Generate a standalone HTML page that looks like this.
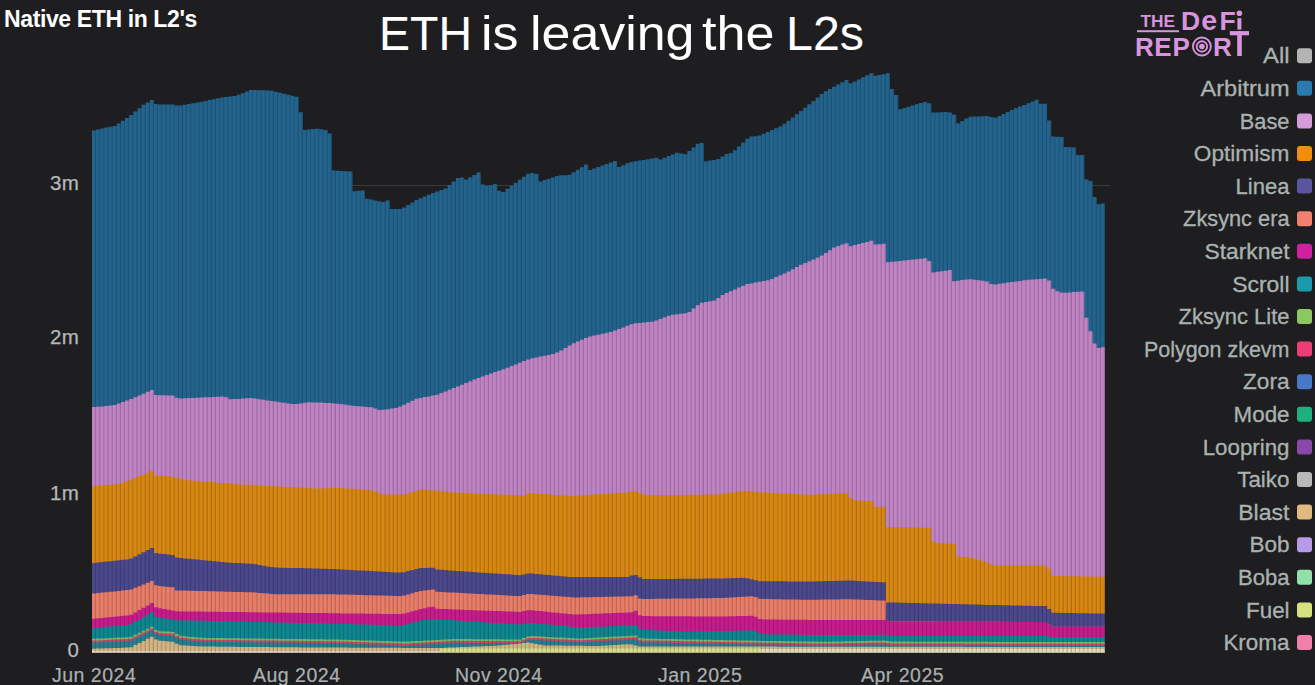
<!DOCTYPE html>
<html><head><meta charset="utf-8">
<style>
html,body{margin:0;padding:0;}
body{width:1315px;height:685px;background:#1e1e20;position:relative;overflow:hidden;font-family:"Liberation Sans",sans-serif;}
.abs{position:absolute;white-space:nowrap;}
#t1{left:4px;top:6px;font-size:23px;font-weight:bold;color:#fff;letter-spacing:-0.38px;}
#t2{left:379.6px;top:5.3px;font-size:48px;color:#fff;letter-spacing:0.2px;}
.yl{position:absolute;right:1236px;font-size:20.5px;color:#b4b8b8;line-height:20px;letter-spacing:0.2px;-webkit-text-stroke:0.25px #b4b8b8;}
.xl{position:absolute;top:665px;font-size:19.5px;color:#aab0b0;line-height:20px;letter-spacing:0.5px;-webkit-text-stroke:0.2px #aab0b0;}
.li{position:absolute;right:3px;height:24px;display:flex;align-items:center;}
.lt{font-size:21.5px;color:#b0b8b6;margin-right:9px;line-height:24px;letter-spacing:0.3px;-webkit-text-stroke:0.25px #b0b8b6;}
.sw{display:inline-block;width:15px;height:15px;border-radius:3px;}
svg{position:absolute;left:0;top:0;}
</style></head><body>
<svg width="1315" height="685" viewBox="0 0 1315 685">
<defs><pattern id="stripes" x="92" y="0" width="4.1347" height="10" patternUnits="userSpaceOnUse"><rect x="3.035" y="0" width="1.1" height="10" fill="#000" fill-opacity="0.2"/></pattern></defs>
<line x1="92" y1="185.5" x2="1110" y2="185.5" stroke="#3a3838" stroke-width="1"/>
<polygon points="92.0,652.5 92.0,130.5 96.1,130.5 96.1,129.5 100.3,129.5 100.3,128.5 104.4,128.5 104.4,127.5 108.5,127.5 108.5,126.7 112.7,126.7 112.7,125.9 116.8,125.9 116.8,123.6 120.9,123.6 120.9,120.8 125.1,120.8 125.1,118.1 129.2,118.1 129.2,115.0 133.3,115.0 133.3,111.6 137.5,111.6 137.5,108.2 141.6,108.2 141.6,104.8 145.8,104.8 145.8,102.5 149.9,102.5 149.9,100.1 154.0,100.1 154.0,104.0 158.2,104.0 158.2,104.4 162.3,104.4 162.3,104.4 166.4,104.4 166.4,104.4 170.6,104.4 170.6,104.4 174.7,104.4 174.7,105.5 178.8,105.5 178.8,105.6 183.0,105.6 183.0,104.8 187.1,104.8 187.1,104.1 191.2,104.1 191.2,103.3 195.4,103.3 195.4,102.6 199.5,102.6 199.5,101.8 203.6,101.8 203.6,101.0 207.8,101.0 207.8,100.1 211.9,100.1 211.9,99.2 216.0,99.2 216.0,98.3 220.2,98.3 220.2,97.6 224.3,97.6 224.3,97.0 228.4,97.0 228.4,96.5 232.6,96.5 232.6,95.9 236.7,95.9 236.7,94.8 240.8,94.8 240.8,93.2 245.0,93.2 245.0,91.5 249.1,91.5 249.1,89.9 253.3,89.9 253.3,90.0 257.4,90.0 257.4,90.2 261.5,90.2 261.5,90.3 265.7,90.3 265.7,90.5 269.8,90.5 269.8,90.7 273.9,90.7 273.9,91.7 278.1,91.7 278.1,92.7 282.2,92.7 282.2,93.7 286.3,93.7 286.3,94.7 290.5,94.7 290.5,95.7 294.6,95.7 294.6,96.7 298.7,96.7 298.7,112.3 302.9,112.3 302.9,129.9 307.0,129.9 307.0,129.5 311.1,129.5 311.1,129.1 315.3,129.1 315.3,128.7 319.4,128.7 319.4,129.2 323.5,129.2 323.5,130.0 327.7,130.0 327.7,133.4 331.8,133.4 331.8,170.4 335.9,170.4 335.9,170.7 340.1,170.7 340.1,171.0 344.2,171.0 344.2,171.3 348.4,171.3 348.4,171.6 352.5,171.6 352.5,191.2 356.6,191.2 356.6,190.8 360.8,190.8 360.8,190.4 364.9,190.4 364.9,198.7 369.0,198.7 369.0,199.6 373.2,199.6 373.2,200.4 377.3,200.4 377.3,201.2 381.4,201.2 381.4,202.1 385.6,202.1 385.6,200.5 389.7,200.5 389.7,209.0 393.8,209.0 393.8,209.0 398.0,209.0 398.0,209.0 402.1,209.0 402.1,207.5 406.2,207.5 406.2,205.0 410.4,205.0 410.4,202.4 414.5,202.4 414.5,199.9 418.6,199.9 418.6,198.2 422.8,198.2 422.8,196.5 426.9,196.5 426.9,194.8 431.0,194.8 431.0,193.1 435.2,193.1 435.2,191.6 439.3,191.6 439.3,190.0 443.4,190.0 443.4,188.5 447.6,188.5 447.6,185.0 451.7,185.0 451.7,181.5 455.9,181.5 455.9,178.0 460.0,178.0 460.0,177.4 464.1,177.4 464.1,179.6 468.3,179.6 468.3,177.3 472.4,177.3 472.4,174.9 476.5,174.9 476.5,172.6 480.7,172.6 480.7,184.5 484.8,184.5 484.8,186.1 488.9,186.1 488.9,185.1 493.1,185.1 493.1,184.0 497.2,184.0 497.2,190.8 501.3,190.8 501.3,191.9 505.5,191.9 505.5,188.8 509.6,188.8 509.6,185.8 513.7,185.8 513.7,182.8 517.9,182.8 517.9,179.8 522.0,179.8 522.0,176.8 526.1,176.8 526.1,173.8 530.3,173.8 530.3,172.9 534.4,172.9 534.4,173.9 538.5,173.9 538.5,181.5 542.7,181.5 542.7,180.1 546.8,180.1 546.8,178.7 551.0,178.7 551.0,177.4 555.1,177.4 555.1,176.0 559.2,176.0 559.2,175.3 563.4,175.3 563.4,175.3 567.5,175.3 567.5,174.8 571.6,174.8 571.6,172.3 575.8,172.3 575.8,169.7 579.9,169.7 579.9,167.2 584.0,167.2 584.0,164.6 588.2,164.6 588.2,170.1 592.3,170.1 592.3,168.5 596.4,168.5 596.4,167.0 600.6,167.0 600.6,165.5 604.7,165.5 604.7,163.9 608.8,163.9 608.8,162.4 613.0,162.4 613.0,160.9 617.1,160.9 617.1,167.0 621.2,167.0 621.2,165.2 625.4,165.2 625.4,163.3 629.5,163.3 629.5,161.9 633.6,161.9 633.6,161.2 637.8,161.2 637.8,160.6 641.9,160.6 641.9,159.9 646.0,159.9 646.0,159.2 650.2,159.2 650.2,158.5 654.3,158.5 654.3,157.8 658.5,157.8 658.5,159.5 662.6,159.5 662.6,157.8 666.7,157.8 666.7,156.1 670.9,156.1 670.9,154.4 675.0,154.4 675.0,152.8 679.1,152.8 679.1,153.6 683.3,153.6 683.3,154.3 687.4,154.3 687.4,150.9 691.5,150.9 691.5,147.4 695.7,147.4 695.7,143.8 699.8,143.8 699.8,143.0 703.9,143.0 703.9,161.3 708.1,161.3 708.1,160.6 712.2,160.6 712.2,159.9 716.3,159.9 716.3,158.9 720.5,158.9 720.5,156.4 724.6,156.4 724.6,153.9 728.7,153.9 728.7,153.1 732.9,153.1 732.9,150.3 737.0,150.3 737.0,146.5 741.1,146.5 741.1,142.6 745.3,142.6 745.3,138.8 749.4,138.8 749.4,136.4 753.6,136.4 753.6,136.2 757.7,136.2 757.7,135.5 761.8,135.5 761.8,133.8 766.0,133.8 766.0,132.0 770.1,132.0 770.1,130.1 774.2,130.1 774.2,128.3 778.4,128.3 778.4,126.4 782.5,126.4 782.5,123.8 786.6,123.8 786.6,120.7 790.8,120.7 790.8,117.6 794.9,117.6 794.9,114.3 799.0,114.3 799.0,111.0 803.2,111.0 803.2,107.7 807.3,107.7 807.3,104.3 811.4,104.3 811.4,100.9 815.6,100.9 815.6,97.5 819.7,97.5 819.7,94.0 823.8,94.0 823.8,91.3 828.0,91.3 828.0,89.0 832.1,89.0 832.1,86.7 836.2,86.7 836.2,84.4 840.4,84.4 840.4,82.2 844.5,82.2 844.5,79.9 848.6,79.9 848.6,83.2 852.8,83.2 852.8,81.5 856.9,81.5 856.9,79.4 861.1,79.4 861.1,77.3 865.2,77.3 865.2,75.2 869.3,75.2 869.3,73.2 873.5,73.2 873.5,75.8 877.6,75.8 877.6,75.1 881.7,75.1 881.7,74.2 885.9,74.2 885.9,73.2 890.0,73.2 890.0,88.9 894.1,88.9 894.1,94.9 898.3,94.9 898.3,109.3 902.4,109.3 902.4,108.0 906.5,108.0 906.5,106.8 910.7,106.8 910.7,105.6 914.8,105.6 914.8,104.3 918.9,104.3 918.9,103.1 923.1,103.1 923.1,101.9 927.2,101.9 927.2,103.2 931.3,103.2 931.3,112.5 935.5,112.5 935.5,112.4 939.6,112.4 939.6,112.2 943.7,112.2 943.7,112.1 947.9,112.1 947.9,112.6 952.0,112.6 952.0,114.8 956.2,114.8 956.2,123.2 960.3,123.2 960.3,120.9 964.4,120.9 964.4,118.5 968.6,118.5 968.6,116.8 972.7,116.8 972.7,116.6 976.8,116.6 976.8,116.4 981.0,116.4 981.0,116.2 985.1,116.2 985.1,116.1 989.2,116.1 989.2,116.9 993.4,116.9 993.4,117.8 997.5,117.8 997.5,115.9 1001.6,115.9 1001.6,114.0 1005.8,114.0 1005.8,112.0 1009.9,112.0 1009.9,110.1 1014.0,110.1 1014.0,108.3 1018.2,108.3 1018.2,106.6 1022.3,106.6 1022.3,104.9 1026.4,104.9 1026.4,103.2 1030.6,103.2 1030.6,101.5 1034.7,101.5 1034.7,99.8 1038.8,99.8 1038.8,103.8 1043.0,103.8 1043.0,103.8 1047.1,103.8 1047.1,120.6 1051.2,120.6 1051.2,136.6 1055.4,136.6 1055.4,136.8 1059.5,136.8 1059.5,137.1 1063.7,137.1 1063.7,147.0 1067.8,147.0 1067.8,147.3 1071.9,147.3 1071.9,147.5 1076.1,147.5 1076.1,154.9 1080.2,154.9 1080.2,154.9 1084.3,154.9 1084.3,179.5 1088.5,179.5 1088.5,180.9 1092.6,180.9 1092.6,197.0 1096.7,197.0 1096.7,204.3 1100.9,204.3 1100.9,203.4 1105.0,203.4 1105.0,652.5" fill="#23648e"/>
<polygon points="92.0,652.5 92.0,407.1 96.1,407.1 96.1,406.7 100.3,406.7 100.3,406.4 104.4,406.4 104.4,406.0 108.5,406.0 108.5,405.6 112.7,405.6 112.7,405.1 116.8,405.1 116.8,403.5 120.9,403.5 120.9,402.0 125.1,402.0 125.1,400.4 129.2,400.4 129.2,398.9 133.3,398.9 133.3,397.3 137.5,397.3 137.5,395.6 141.6,395.6 141.6,393.7 145.8,393.7 145.8,391.8 149.9,391.8 149.9,390.0 154.0,390.0 154.0,395.1 158.2,395.1 158.2,395.2 162.3,395.2 162.3,395.3 166.4,395.3 166.4,395.5 170.6,395.5 170.6,395.6 174.7,395.6 174.7,397.7 178.8,397.7 178.8,398.4 183.0,398.4 183.0,398.2 187.1,398.2 187.1,398.0 191.2,398.0 191.2,397.9 195.4,397.9 195.4,397.7 199.5,397.7 199.5,397.5 203.6,397.5 203.6,397.3 207.8,397.3 207.8,397.2 211.9,397.2 211.9,397.0 216.0,397.0 216.0,396.8 220.2,396.8 220.2,396.6 224.3,396.6 224.3,397.2 228.4,397.2 228.4,399.2 232.6,399.2 232.6,399.1 236.7,399.1 236.7,398.9 240.8,398.9 240.8,398.6 245.0,398.6 245.0,398.3 249.1,398.3 249.1,398.0 253.3,398.0 253.3,398.6 257.4,398.6 257.4,399.2 261.5,399.2 261.5,399.8 265.7,399.8 265.7,400.4 269.8,400.4 269.8,401.0 273.9,401.0 273.9,401.6 278.1,401.6 278.1,402.2 282.2,402.2 282.2,402.8 286.3,402.8 286.3,403.4 290.5,403.4 290.5,404.0 294.6,404.0 294.6,404.1 298.7,404.1 298.7,403.4 302.9,403.4 302.9,402.7 307.0,402.7 307.0,402.3 311.1,402.3 311.1,402.4 315.3,402.4 315.3,402.5 319.4,402.5 319.4,402.6 323.5,402.6 323.5,402.9 327.7,402.9 327.7,403.1 331.8,403.1 331.8,403.4 335.9,403.4 335.9,403.7 340.1,403.7 340.1,404.2 344.2,404.2 344.2,404.8 348.4,404.8 348.4,405.4 352.5,405.4 352.5,405.9 356.6,405.9 356.6,406.3 360.8,406.3 360.8,406.6 364.9,406.6 364.9,407.0 369.0,407.0 369.0,407.3 373.2,407.3 373.2,408.5 377.3,408.5 377.3,410.1 381.4,410.1 381.4,409.8 385.6,409.8 385.6,409.2 389.7,409.2 389.7,408.5 393.8,408.5 393.8,407.9 398.0,407.9 398.0,406.8 402.1,406.8 402.1,404.7 406.2,404.7 406.2,402.7 410.4,402.7 410.4,400.7 414.5,400.7 414.5,398.7 418.6,398.7 418.6,397.9 422.8,397.9 422.8,397.1 426.9,397.1 426.9,396.4 431.0,396.4 431.0,395.6 435.2,395.6 435.2,394.7 439.3,394.7 439.3,393.1 443.4,393.1 443.4,391.4 447.6,391.4 447.6,389.8 451.7,389.8 451.7,388.1 455.9,388.1 455.9,386.4 460.0,386.4 460.0,384.7 464.1,384.7 464.1,383.0 468.3,383.0 468.3,381.3 472.4,381.3 472.4,379.5 476.5,379.5 476.5,377.9 480.7,377.9 480.7,376.4 484.8,376.4 484.8,375.0 488.9,375.0 488.9,373.6 493.1,373.6 493.1,372.1 497.2,372.1 497.2,370.7 501.3,370.7 501.3,369.2 505.5,369.2 505.5,367.7 509.6,367.7 509.6,366.1 513.7,366.1 513.7,364.4 517.9,364.4 517.9,362.8 522.0,362.8 522.0,361.1 526.1,361.1 526.1,359.5 530.3,359.5 530.3,358.3 534.4,358.3 534.4,357.4 538.5,357.4 538.5,356.6 542.7,356.6 542.7,355.8 546.8,355.8 546.8,354.9 551.0,354.9 551.0,354.1 555.1,354.1 555.1,352.6 559.2,352.6 559.2,350.6 563.4,350.6 563.4,348.0 567.5,348.0 567.5,345.4 571.6,345.4 571.6,343.2 575.8,343.2 575.8,341.5 579.9,341.5 579.9,339.8 584.0,339.8 584.0,338.1 588.2,338.1 588.2,336.6 592.3,336.6 592.3,335.6 596.4,335.6 596.4,334.7 600.6,334.7 600.6,333.8 604.7,333.8 604.7,332.8 608.8,332.8 608.8,331.9 613.0,331.9 613.0,330.6 617.1,330.6 617.1,329.0 621.2,329.0 621.2,327.4 625.4,327.4 625.4,325.8 629.5,325.8 629.5,324.2 633.6,324.2 633.6,323.3 637.8,323.3 637.8,322.9 641.9,322.9 641.9,322.5 646.0,322.5 646.0,322.1 650.2,322.1 650.2,321.7 654.3,321.7 654.3,320.5 658.5,320.5 658.5,318.9 662.6,318.9 662.6,317.3 666.7,317.3 666.7,315.7 670.9,315.7 670.9,314.7 675.0,314.7 675.0,314.2 679.1,314.2 679.1,313.7 683.3,313.7 683.3,313.2 687.4,313.2 687.4,312.0 691.5,312.0 691.5,308.6 695.7,308.6 695.7,305.2 699.8,305.2 699.8,302.8 703.9,302.8 703.9,302.0 708.1,302.0 708.1,301.2 712.2,301.2 712.2,300.4 716.3,300.4 716.3,297.9 720.5,297.9 720.5,295.1 724.6,295.1 724.6,293.1 728.7,293.1 728.7,291.3 732.9,291.3 732.9,289.5 737.0,289.5 737.0,287.6 741.1,287.6 741.1,285.8 745.3,285.8 745.3,284.1 749.4,284.1 749.4,283.4 753.6,283.4 753.6,282.6 757.7,282.6 757.7,281.8 761.8,281.8 761.8,281.1 766.0,281.1 766.0,280.3 770.1,280.3 770.1,279.0 774.2,279.0 774.2,277.1 778.4,277.1 778.4,275.3 782.5,275.3 782.5,273.4 786.6,273.4 786.6,271.4 790.8,271.4 790.8,269.2 794.9,269.2 794.9,266.9 799.0,266.9 799.0,264.7 803.2,264.7 803.2,263.0 807.3,263.0 807.3,261.2 811.4,261.2 811.4,259.4 815.6,259.4 815.6,257.7 819.7,257.7 819.7,255.6 823.8,255.6 823.8,252.9 828.0,252.9 828.0,250.2 832.1,250.2 832.1,247.4 836.2,247.4 836.2,245.9 840.4,245.9 840.4,244.6 844.5,244.6 844.5,243.3 848.6,243.3 848.6,246.2 852.8,246.2 852.8,245.1 856.9,245.1 856.9,244.1 861.1,244.1 861.1,243.0 865.2,243.0 865.2,241.9 869.3,241.9 869.3,240.8 873.5,240.8 873.5,244.6 877.6,244.6 877.6,244.2 881.7,244.2 881.7,243.8 885.9,243.8 885.9,262.3 890.0,262.3 890.0,261.8 894.1,261.8 894.1,261.4 898.3,261.4 898.3,261.0 902.4,261.0 902.4,260.5 906.5,260.5 906.5,260.1 910.7,260.1 910.7,259.6 914.8,259.6 914.8,259.2 918.9,259.2 918.9,258.8 923.1,258.8 923.1,258.3 927.2,258.3 927.2,260.9 931.3,260.9 931.3,272.4 935.5,272.4 935.5,271.8 939.6,271.8 939.6,271.3 943.7,271.3 943.7,270.7 947.9,270.7 947.9,270.1 952.0,270.1 952.0,281.3 956.2,281.3 956.2,280.7 960.3,280.7 960.3,280.0 964.4,280.0 964.4,279.4 968.6,279.4 968.6,279.2 972.7,279.2 972.7,279.7 976.8,279.7 976.8,280.3 981.0,280.3 981.0,280.8 985.1,280.8 985.1,281.5 989.2,281.5 989.2,284.0 993.4,284.0 993.4,284.4 997.5,284.4 997.5,283.8 1001.6,283.8 1001.6,283.2 1005.8,283.2 1005.8,282.6 1009.9,282.6 1009.9,282.0 1014.0,282.0 1014.0,281.5 1018.2,281.5 1018.2,280.9 1022.3,280.9 1022.3,280.3 1026.4,280.3 1026.4,279.7 1030.6,279.7 1030.6,279.5 1034.7,279.5 1034.7,279.2 1038.8,279.2 1038.8,278.9 1043.0,278.9 1043.0,278.6 1047.1,278.6 1047.1,280.5 1051.2,280.5 1051.2,288.7 1055.4,288.7 1055.4,291.2 1059.5,291.2 1059.5,292.6 1063.7,292.6 1063.7,292.8 1067.8,292.8 1067.8,292.5 1071.9,292.5 1071.9,292.1 1076.1,292.1 1076.1,291.8 1080.2,291.8 1080.2,291.5 1084.3,291.5 1084.3,317.8 1088.5,317.8 1088.5,331.2 1092.6,331.2 1092.6,343.5 1096.7,343.5 1096.7,348.0 1100.9,348.0 1100.9,347.3 1105.0,347.3 1105.0,652.5" fill="#c084c4"/>
<polygon points="92.0,652.5 92.0,485.9 96.1,485.9 96.1,485.6 100.3,485.6 100.3,485.3 104.4,485.3 104.4,485.0 108.5,485.0 108.5,484.7 112.7,484.7 112.7,484.4 116.8,484.4 116.8,484.1 120.9,484.1 120.9,482.8 125.1,482.8 125.1,481.1 129.2,481.1 129.2,479.4 133.3,479.4 133.3,477.8 137.5,477.8 137.5,476.1 141.6,476.1 141.6,474.4 145.8,474.4 145.8,472.7 149.9,472.7 149.9,471.1 154.0,471.1 154.0,475.4 158.2,475.4 158.2,475.7 162.3,475.7 162.3,475.9 166.4,475.9 166.4,476.1 170.6,476.1 170.6,476.9 174.7,476.9 174.7,477.9 178.8,477.9 178.8,478.8 183.0,478.8 183.0,479.8 187.1,479.8 187.1,480.5 191.2,480.5 191.2,480.8 195.4,480.8 195.4,481.1 199.5,481.1 199.5,481.4 203.6,481.4 203.6,481.7 207.8,481.7 207.8,482.0 211.9,482.0 211.9,482.4 216.0,482.4 216.0,482.7 220.2,482.7 220.2,483.0 224.3,483.0 224.3,483.3 228.4,483.3 228.4,483.6 232.6,483.6 232.6,483.9 236.7,483.9 236.7,484.3 240.8,484.3 240.8,484.6 245.0,484.6 245.0,484.9 249.1,484.9 249.1,485.1 253.3,485.1 253.3,485.3 257.4,485.3 257.4,485.5 261.5,485.5 261.5,485.7 265.7,485.7 265.7,485.9 269.8,485.9 269.8,486.1 273.9,486.1 273.9,486.3 278.1,486.3 278.1,486.5 282.2,486.5 282.2,486.7 286.3,486.7 286.3,487.0 290.5,487.0 290.5,487.2 294.6,487.2 294.6,487.4 298.7,487.4 298.7,487.6 302.9,487.6 302.9,487.8 307.0,487.8 307.0,488.0 311.1,488.0 311.1,488.2 315.3,488.2 315.3,488.5 319.4,488.5 319.4,488.5 323.5,488.5 323.5,488.3 327.7,488.3 327.7,488.0 331.8,488.0 331.8,487.7 335.9,487.7 335.9,487.9 340.1,487.9 340.1,488.2 344.2,488.2 344.2,488.4 348.4,488.4 348.4,488.7 352.5,488.7 352.5,488.9 356.6,488.9 356.6,489.2 360.8,489.2 360.8,489.4 364.9,489.4 364.9,489.7 369.0,489.7 369.0,489.9 373.2,489.9 373.2,491.4 377.3,491.4 377.3,493.5 381.4,493.5 381.4,494.5 385.6,494.5 385.6,494.5 389.7,494.5 389.7,494.5 393.8,494.5 393.8,494.5 398.0,494.5 398.0,494.5 402.1,494.5 402.1,494.5 406.2,494.5 406.2,493.4 410.4,493.4 410.4,492.2 414.5,492.2 414.5,490.9 418.6,490.9 418.6,489.7 422.8,489.7 422.8,489.5 426.9,489.5 426.9,489.9 431.0,489.9 431.0,490.4 435.2,490.4 435.2,490.8 439.3,490.8 439.3,491.3 443.4,491.3 443.4,491.8 447.6,491.8 447.6,492.2 451.7,492.2 451.7,492.5 455.9,492.5 455.9,492.7 460.0,492.7 460.0,492.9 464.1,492.9 464.1,493.1 468.3,493.1 468.3,493.3 472.4,493.3 472.4,493.5 476.5,493.5 476.5,493.7 480.7,493.7 480.7,493.9 484.8,493.9 484.8,494.1 488.9,494.1 488.9,494.3 493.1,494.3 493.1,494.5 497.2,494.5 497.2,494.6 501.3,494.6 501.3,494.7 505.5,494.7 505.5,494.8 509.6,494.8 509.6,495.0 513.7,495.0 513.7,495.1 517.9,495.1 517.9,495.2 522.0,495.2 522.0,495.3 526.1,495.3 526.1,493.3 530.3,493.3 530.3,493.2 534.4,493.2 534.4,493.5 538.5,493.5 538.5,493.8 542.7,493.8 542.7,494.1 546.8,494.1 546.8,494.4 551.0,494.4 551.0,494.7 555.1,494.7 555.1,495.0 559.2,495.0 559.2,495.3 563.4,495.3 563.4,495.6 567.5,495.6 567.5,495.9 571.6,495.9 571.6,495.7 575.8,495.7 575.8,495.4 579.9,495.4 579.9,495.2 584.0,495.2 584.0,494.9 588.2,494.9 588.2,494.7 592.3,494.7 592.3,494.4 596.4,494.4 596.4,494.2 600.6,494.2 600.6,493.9 604.7,493.9 604.7,493.7 608.8,493.7 608.8,493.4 613.0,493.4 613.0,493.2 617.1,493.2 617.1,493.0 621.2,493.0 621.2,492.7 625.4,492.7 625.4,492.5 629.5,492.5 629.5,491.5 633.6,491.5 633.6,491.3 637.8,491.3 637.8,492.9 641.9,492.9 641.9,494.5 646.0,494.5 646.0,495.3 650.2,495.3 650.2,495.2 654.3,495.2 654.3,495.2 658.5,495.2 658.5,495.1 662.6,495.1 662.6,495.1 666.7,495.1 666.7,495.0 670.9,495.0 670.9,495.0 675.0,495.0 675.0,494.9 679.1,494.9 679.1,494.9 683.3,494.9 683.3,494.9 687.4,494.9 687.4,494.8 691.5,494.8 691.5,494.8 695.7,494.8 695.7,494.7 699.8,494.7 699.8,494.7 703.9,494.7 703.9,494.6 708.1,494.6 708.1,494.6 712.2,494.6 712.2,494.5 716.3,494.5 716.3,494.2 720.5,494.2 720.5,493.7 724.6,493.7 724.6,493.2 728.7,493.2 728.7,492.7 732.9,492.7 732.9,492.2 737.0,492.2 737.0,491.7 741.1,491.7 741.1,491.2 745.3,491.2 745.3,491.2 749.4,491.2 749.4,491.6 753.6,491.6 753.6,492.0 757.7,492.0 757.7,492.4 761.8,492.4 761.8,492.6 766.0,492.6 766.0,492.8 770.1,492.8 770.1,493.0 774.2,493.0 774.2,493.2 778.4,493.2 778.4,493.4 782.5,493.4 782.5,493.6 786.6,493.6 786.6,493.8 790.8,493.8 790.8,494.0 794.9,494.0 794.9,494.2 799.0,494.2 799.0,494.4 803.2,494.4 803.2,494.6 807.3,494.6 807.3,494.8 811.4,494.8 811.4,494.7 815.6,494.7 815.6,494.5 819.7,494.5 819.7,494.3 823.8,494.3 823.8,494.1 828.0,494.1 828.0,494.0 832.1,494.0 832.1,493.8 836.2,493.8 836.2,493.6 840.4,493.6 840.4,493.5 844.5,493.5 844.5,493.3 848.6,493.3 848.6,497.9 852.8,497.9 852.8,500.3 856.9,500.3 856.9,500.5 861.1,500.5 861.1,500.7 865.2,500.7 865.2,500.9 869.3,500.9 869.3,501.1 873.5,501.1 873.5,506.7 877.6,506.7 877.6,507.0 881.7,507.0 881.7,507.3 885.9,507.3 885.9,526.9 890.0,526.9 890.0,527.0 894.1,527.0 894.1,527.1 898.3,527.1 898.3,527.2 902.4,527.2 902.4,527.3 906.5,527.3 906.5,527.3 910.7,527.3 910.7,527.4 914.8,527.4 914.8,527.5 918.9,527.5 918.9,527.6 923.1,527.6 923.1,527.7 927.2,527.7 927.2,527.8 931.3,527.8 931.3,541.6 935.5,541.6 935.5,543.2 939.6,543.2 939.6,543.3 943.7,543.3 943.7,543.5 947.9,543.5 947.9,543.7 952.0,543.7 952.0,543.8 956.2,543.8 956.2,556.6 960.3,556.6 960.3,556.9 964.4,556.9 964.4,557.1 968.6,557.1 968.6,557.4 972.7,557.4 972.7,558.6 976.8,558.6 976.8,559.9 981.0,559.9 981.0,561.1 985.1,561.1 985.1,562.4 989.2,562.4 989.2,564.5 993.4,564.5 993.4,565.4 997.5,565.4 997.5,565.4 1001.6,565.4 1001.6,565.4 1005.8,565.4 1005.8,565.4 1009.9,565.4 1009.9,565.4 1014.0,565.4 1014.0,565.4 1018.2,565.4 1018.2,565.4 1022.3,565.4 1022.3,565.4 1026.4,565.4 1026.4,565.4 1030.6,565.4 1030.6,565.4 1034.7,565.4 1034.7,565.4 1038.8,565.4 1038.8,565.4 1043.0,565.4 1043.0,565.4 1047.1,565.4 1047.1,568.7 1051.2,568.7 1051.2,576.0 1055.4,576.0 1055.4,576.1 1059.5,576.1 1059.5,576.1 1063.7,576.1 1063.7,576.2 1067.8,576.2 1067.8,576.2 1071.9,576.2 1071.9,576.3 1076.1,576.3 1076.1,576.3 1080.2,576.3 1080.2,576.4 1084.3,576.4 1084.3,576.5 1088.5,576.5 1088.5,576.5 1092.6,576.5 1092.6,576.6 1096.7,576.6 1096.7,576.6 1100.9,576.6 1100.9,576.7 1105.0,576.7 1105.0,652.5" fill="#d88812"/>
<polygon points="92.0,652.5 92.0,563.0 96.1,563.0 96.1,562.5 100.3,562.5 100.3,562.1 104.4,562.1 104.4,561.6 108.5,561.6 108.5,561.2 112.7,561.2 112.7,560.7 116.8,560.7 116.8,560.3 120.9,560.3 120.9,559.8 125.1,559.8 125.1,559.4 129.2,559.4 129.2,558.6 133.3,558.6 133.3,556.5 137.5,556.5 137.5,554.3 141.6,554.3 141.6,552.2 145.8,552.2 145.8,550.0 149.9,550.0 149.9,547.9 154.0,547.9 154.0,553.0 158.2,553.0 158.2,553.7 162.3,553.7 162.3,554.1 166.4,554.1 166.4,554.6 170.6,554.6 170.6,555.0 174.7,555.0 174.7,557.5 178.8,557.5 178.8,558.0 183.0,558.0 183.0,558.4 187.1,558.4 187.1,558.8 191.2,558.8 191.2,559.2 195.4,559.2 195.4,559.6 199.5,559.6 199.5,560.0 203.6,560.0 203.6,560.4 207.8,560.4 207.8,560.8 211.9,560.8 211.9,561.2 216.0,561.2 216.0,561.6 220.2,561.6 220.2,562.1 224.3,562.1 224.3,562.4 228.4,562.4 228.4,562.7 232.6,562.7 232.6,562.9 236.7,562.9 236.7,563.1 240.8,563.1 240.8,563.3 245.0,563.3 245.0,563.5 249.1,563.5 249.1,563.7 253.3,563.7 253.3,564.3 257.4,564.3 257.4,565.0 261.5,565.0 261.5,565.7 265.7,565.7 265.7,566.4 269.8,566.4 269.8,567.1 273.9,567.1 273.9,567.6 278.1,567.6 278.1,567.7 282.2,567.7 282.2,567.8 286.3,567.8 286.3,567.9 290.5,567.9 290.5,567.9 294.6,567.9 294.6,568.0 298.7,568.0 298.7,568.1 302.9,568.1 302.9,568.2 307.0,568.2 307.0,568.3 311.1,568.3 311.1,568.4 315.3,568.4 315.3,568.5 319.4,568.5 319.4,568.7 323.5,568.7 323.5,568.8 327.7,568.8 327.7,568.9 331.8,568.9 331.8,569.1 335.9,569.1 335.9,569.3 340.1,569.3 340.1,569.5 344.2,569.5 344.2,569.8 348.4,569.8 348.4,570.0 352.5,570.0 352.5,570.2 356.6,570.2 356.6,570.4 360.8,570.4 360.8,570.6 364.9,570.6 364.9,570.8 369.0,570.8 369.0,571.1 373.2,571.1 373.2,571.3 377.3,571.3 377.3,571.5 381.4,571.5 381.4,571.7 385.6,571.7 385.6,571.9 389.7,571.9 389.7,572.2 393.8,572.2 393.8,572.4 398.0,572.4 398.0,572.6 402.1,572.6 402.1,572.2 406.2,572.2 406.2,571.1 410.4,571.1 410.4,570.0 414.5,570.0 414.5,568.9 418.6,568.9 418.6,568.1 422.8,568.1 422.8,567.9 426.9,567.9 426.9,567.7 431.0,567.7 431.0,567.8 435.2,567.8 435.2,569.6 439.3,569.6 439.3,569.8 443.4,569.8 443.4,570.1 447.6,570.1 447.6,570.4 451.7,570.4 451.7,570.7 455.9,570.7 455.9,571.0 460.0,571.0 460.0,571.2 464.1,571.2 464.1,571.5 468.3,571.5 468.3,571.8 472.4,571.8 472.4,572.1 476.5,572.1 476.5,572.4 480.7,572.4 480.7,572.7 484.8,572.7 484.8,572.9 488.9,572.9 488.9,573.2 493.1,573.2 493.1,573.5 497.2,573.5 497.2,573.8 501.3,573.8 501.3,574.1 505.5,574.1 505.5,574.3 509.6,574.3 509.6,574.6 513.7,574.6 513.7,574.9 517.9,574.9 517.9,575.2 522.0,575.2 522.0,574.4 526.1,574.4 526.1,573.6 530.3,573.6 530.3,573.6 534.4,573.6 534.4,573.9 538.5,573.9 538.5,574.3 542.7,574.3 542.7,574.7 546.8,574.7 546.8,575.1 551.0,575.1 551.0,575.4 555.1,575.4 555.1,575.8 559.2,575.8 559.2,576.2 563.4,576.2 563.4,576.6 567.5,576.6 567.5,577.0 571.6,577.0 571.6,577.0 575.8,577.0 575.8,577.0 579.9,577.0 579.9,577.0 584.0,577.0 584.0,577.0 588.2,577.0 588.2,577.0 592.3,577.0 592.3,577.0 596.4,577.0 596.4,577.0 600.6,577.0 600.6,577.0 604.7,577.0 604.7,577.0 608.8,577.0 608.8,577.0 613.0,577.0 613.0,577.0 617.1,577.0 617.1,577.0 621.2,577.0 621.2,577.0 625.4,577.0 625.4,577.0 629.5,577.0 629.5,575.5 633.6,575.5 633.6,575.0 637.8,575.0 637.8,577.3 641.9,577.3 641.9,579.1 646.0,579.1 646.0,579.1 650.2,579.1 650.2,579.0 654.3,579.0 654.3,579.0 658.5,579.0 658.5,579.0 662.6,579.0 662.6,578.9 666.7,578.9 666.7,578.9 670.9,578.9 670.9,578.9 675.0,578.9 675.0,578.8 679.1,578.8 679.1,578.8 683.3,578.8 683.3,578.8 687.4,578.8 687.4,578.7 691.5,578.7 691.5,578.7 695.7,578.7 695.7,578.7 699.8,578.7 699.8,578.7 703.9,578.7 703.9,578.6 708.1,578.6 708.1,578.6 712.2,578.6 712.2,578.6 716.3,578.6 716.3,578.5 720.5,578.5 720.5,578.5 724.6,578.5 724.6,578.3 728.7,578.3 728.7,578.2 732.9,578.2 732.9,578.1 737.0,578.1 737.0,577.9 741.1,577.9 741.1,577.8 745.3,577.8 745.3,578.2 749.4,578.2 749.4,579.2 753.6,579.2 753.6,580.2 757.7,580.2 757.7,581.2 761.8,581.2 761.8,581.2 766.0,581.2 766.0,581.2 770.1,581.2 770.1,581.3 774.2,581.3 774.2,581.3 778.4,581.3 778.4,581.3 782.5,581.3 782.5,581.3 786.6,581.3 786.6,581.4 790.8,581.4 790.8,581.4 794.9,581.4 794.9,581.4 799.0,581.4 799.0,581.4 803.2,581.4 803.2,581.5 807.3,581.5 807.3,581.5 811.4,581.5 811.4,581.4 815.6,581.4 815.6,581.3 819.7,581.3 819.7,581.2 823.8,581.2 823.8,581.1 828.0,581.1 828.0,581.0 832.1,581.0 832.1,580.9 836.2,580.9 836.2,580.8 840.4,580.8 840.4,580.7 844.5,580.7 844.5,580.5 848.6,580.5 848.6,580.6 852.8,580.6 852.8,580.8 856.9,580.8 856.9,581.0 861.1,581.0 861.1,581.2 865.2,581.2 865.2,581.5 869.3,581.5 869.3,581.7 873.5,581.7 873.5,581.9 877.6,581.9 877.6,582.1 881.7,582.1 881.7,582.3 885.9,582.3 885.9,602.4 890.0,602.4 890.0,602.5 894.1,602.5 894.1,602.6 898.3,602.6 898.3,602.7 902.4,602.7 902.4,602.8 906.5,602.8 906.5,602.9 910.7,602.9 910.7,603.0 914.8,603.0 914.8,603.1 918.9,603.1 918.9,603.2 923.1,603.2 923.1,603.3 927.2,603.3 927.2,603.4 931.3,603.4 931.3,603.5 935.5,603.5 935.5,603.6 939.6,603.6 939.6,603.7 943.7,603.7 943.7,603.8 947.9,603.8 947.9,603.9 952.0,603.9 952.0,604.0 956.2,604.0 956.2,604.1 960.3,604.1 960.3,604.2 964.4,604.2 964.4,604.3 968.6,604.3 968.6,604.4 972.7,604.4 972.7,604.5 976.8,604.5 976.8,604.6 981.0,604.6 981.0,604.8 985.1,604.8 985.1,604.9 989.2,604.9 989.2,605.0 993.4,605.0 993.4,605.1 997.5,605.1 997.5,605.1 1001.6,605.1 1001.6,605.2 1005.8,605.2 1005.8,605.3 1009.9,605.3 1009.9,605.4 1014.0,605.4 1014.0,605.5 1018.2,605.5 1018.2,605.6 1022.3,605.6 1022.3,605.7 1026.4,605.7 1026.4,605.8 1030.6,605.8 1030.6,605.9 1034.7,605.9 1034.7,606.0 1038.8,606.0 1038.8,606.1 1043.0,606.1 1043.0,606.1 1047.1,606.1 1047.1,609.1 1051.2,609.1 1051.2,612.7 1055.4,612.7 1055.4,612.8 1059.5,612.8 1059.5,612.9 1063.7,612.9 1063.7,612.9 1067.8,612.9 1067.8,613.0 1071.9,613.0 1071.9,613.1 1076.1,613.1 1076.1,613.2 1080.2,613.2 1080.2,613.2 1084.3,613.2 1084.3,613.3 1088.5,613.3 1088.5,613.4 1092.6,613.4 1092.6,613.4 1096.7,613.4 1096.7,613.5 1100.9,613.5 1100.9,613.6 1105.0,613.6 1105.0,652.5" fill="#4b488c"/>
<polygon points="92.0,652.5 92.0,593.4 96.1,593.4 96.1,593.0 100.3,593.0 100.3,592.6 104.4,592.6 104.4,592.2 108.5,592.2 108.5,591.8 112.7,591.8 112.7,591.4 116.8,591.4 116.8,591.0 120.9,591.0 120.9,590.5 125.1,590.5 125.1,590.1 129.2,590.1 129.2,589.5 133.3,589.5 133.3,587.8 137.5,587.8 137.5,586.2 141.6,586.2 141.6,584.5 145.8,584.5 145.8,582.8 149.9,582.8 149.9,581.1 154.0,581.1 154.0,585.3 158.2,585.3 158.2,586.0 162.3,586.0 162.3,586.4 166.4,586.4 166.4,586.9 170.6,586.9 170.6,587.3 174.7,587.3 174.7,590.4 178.8,590.4 178.8,590.5 183.0,590.5 183.0,590.6 187.1,590.6 187.1,590.7 191.2,590.7 191.2,590.8 195.4,590.8 195.4,590.9 199.5,590.9 199.5,591.0 203.6,591.0 203.6,591.1 207.8,591.1 207.8,591.2 211.9,591.2 211.9,591.3 216.0,591.3 216.0,591.4 220.2,591.4 220.2,591.5 224.3,591.5 224.3,591.7 228.4,591.7 228.4,591.8 232.6,591.8 232.6,591.9 236.7,591.9 236.7,592.0 240.8,592.0 240.8,592.1 245.0,592.1 245.0,592.2 249.1,592.2 249.1,592.3 253.3,592.3 253.3,592.6 257.4,592.6 257.4,592.9 261.5,592.9 261.5,593.2 265.7,593.2 265.7,593.6 269.8,593.6 269.8,593.9 273.9,593.9 273.9,594.2 278.1,594.2 278.1,594.2 282.2,594.2 282.2,594.2 286.3,594.2 286.3,594.2 290.5,594.2 290.5,594.2 294.6,594.2 294.6,594.2 298.7,594.2 298.7,594.2 302.9,594.2 302.9,594.2 307.0,594.2 307.0,594.2 311.1,594.2 311.1,594.2 315.3,594.2 315.3,594.2 319.4,594.2 319.4,594.2 323.5,594.2 323.5,594.2 327.7,594.2 327.7,594.2 331.8,594.2 331.8,594.3 335.9,594.3 335.9,594.4 340.1,594.4 340.1,594.5 344.2,594.5 344.2,594.6 348.4,594.6 348.4,594.7 352.5,594.7 352.5,594.8 356.6,594.8 356.6,595.0 360.8,595.0 360.8,595.1 364.9,595.1 364.9,595.2 369.0,595.2 369.0,595.3 373.2,595.3 373.2,595.4 377.3,595.4 377.3,595.5 381.4,595.5 381.4,595.6 385.6,595.6 385.6,595.7 389.7,595.7 389.7,595.8 393.8,595.8 393.8,595.9 398.0,595.9 398.0,596.0 402.1,596.0 402.1,595.6 406.2,595.6 406.2,594.4 410.4,594.4 410.4,593.2 414.5,593.2 414.5,592.1 418.6,592.1 418.6,591.1 422.8,591.1 422.8,590.5 426.9,590.5 426.9,589.9 431.0,589.9 431.0,589.6 435.2,589.6 435.2,591.7 439.3,591.7 439.3,592.0 443.4,592.0 443.4,592.2 447.6,592.2 447.6,592.4 451.7,592.4 451.7,592.6 455.9,592.6 455.9,592.8 460.0,592.8 460.0,593.0 464.1,593.0 464.1,593.3 468.3,593.3 468.3,593.5 472.4,593.5 472.4,593.7 476.5,593.7 476.5,593.9 480.7,593.9 480.7,594.1 484.8,594.1 484.8,594.4 488.9,594.4 488.9,594.6 493.1,594.6 493.1,594.8 497.2,594.8 497.2,595.0 501.3,595.0 501.3,595.2 505.5,595.2 505.5,595.4 509.6,595.4 509.6,595.7 513.7,595.7 513.7,595.9 517.9,595.9 517.9,596.1 522.0,596.1 522.0,595.1 526.1,595.1 526.1,594.1 530.3,594.1 530.3,594.0 534.4,594.0 534.4,594.4 538.5,594.4 538.5,594.7 542.7,594.7 542.7,595.0 546.8,595.0 546.8,595.4 551.0,595.4 551.0,595.7 555.1,595.7 555.1,596.0 559.2,596.0 559.2,596.4 563.4,596.4 563.4,596.7 567.5,596.7 567.5,597.1 571.6,597.1 571.6,597.4 575.8,597.4 575.8,597.4 579.9,597.4 579.9,597.3 584.0,597.3 584.0,597.2 588.2,597.2 588.2,597.2 592.3,597.2 592.3,597.1 596.4,597.1 596.4,597.0 600.6,597.0 600.6,596.9 604.7,596.9 604.7,596.8 608.8,596.8 608.8,596.7 613.0,596.7 613.0,596.6 617.1,596.6 617.1,596.5 621.2,596.5 621.2,596.4 625.4,596.4 625.4,596.3 629.5,596.3 629.5,596.2 633.6,596.2 633.6,595.2 637.8,595.2 637.8,598.4 641.9,598.4 641.9,599.0 646.0,599.0 646.0,598.9 650.2,598.9 650.2,598.9 654.3,598.9 654.3,598.8 658.5,598.8 658.5,598.8 662.6,598.8 662.6,598.7 666.7,598.7 666.7,598.7 670.9,598.7 670.9,598.6 675.0,598.6 675.0,598.6 679.1,598.6 679.1,598.5 683.3,598.5 683.3,598.5 687.4,598.5 687.4,598.4 691.5,598.4 691.5,598.4 695.7,598.4 695.7,598.3 699.8,598.3 699.8,598.3 703.9,598.3 703.9,598.2 708.1,598.2 708.1,598.2 712.2,598.2 712.2,598.1 716.3,598.1 716.3,598.1 720.5,598.1 720.5,598.0 724.6,598.0 724.6,597.8 728.7,597.8 728.7,597.6 732.9,597.6 732.9,597.3 737.0,597.3 737.0,597.1 741.1,597.1 741.1,596.8 745.3,596.8 745.3,596.6 749.4,596.6 749.4,596.3 753.6,596.3 753.6,597.0 757.7,597.0 757.7,598.7 761.8,598.7 761.8,599.1 766.0,599.1 766.0,599.1 770.1,599.1 770.1,599.2 774.2,599.2 774.2,599.3 778.4,599.3 778.4,599.3 782.5,599.3 782.5,599.4 786.6,599.4 786.6,599.5 790.8,599.5 790.8,599.5 794.9,599.5 794.9,599.6 799.0,599.6 799.0,599.7 803.2,599.7 803.2,599.7 807.3,599.7 807.3,599.8 811.4,599.8 811.4,599.7 815.6,599.7 815.6,599.7 819.7,599.7 819.7,599.6 823.8,599.6 823.8,599.6 828.0,599.6 828.0,599.5 832.1,599.5 832.1,599.4 836.2,599.4 836.2,599.4 840.4,599.4 840.4,599.3 844.5,599.3 844.5,599.2 848.6,599.2 848.6,599.3 852.8,599.3 852.8,599.5 856.9,599.5 856.9,599.6 861.1,599.6 861.1,599.8 865.2,599.8 865.2,600.0 869.3,600.0 869.3,600.1 873.5,600.1 873.5,600.3 877.6,600.3 877.6,600.5 881.7,600.5 881.7,600.6 885.9,600.6 885.9,621.5 890.0,621.5 890.0,621.5 894.1,621.5 894.1,621.5 898.3,621.5 898.3,621.5 902.4,621.5 902.4,621.6 906.5,621.6 906.5,621.6 910.7,621.6 910.7,621.6 914.8,621.6 914.8,621.6 918.9,621.6 918.9,621.6 923.1,621.6 923.1,621.6 927.2,621.6 927.2,621.6 931.3,621.6 931.3,621.6 935.5,621.6 935.5,621.7 939.6,621.7 939.6,621.7 943.7,621.7 943.7,621.7 947.9,621.7 947.9,621.7 952.0,621.7 952.0,621.7 956.2,621.7 956.2,621.7 960.3,621.7 960.3,621.7 964.4,621.7 964.4,621.7 968.6,621.7 968.6,621.8 972.7,621.8 972.7,621.8 976.8,621.8 976.8,621.8 981.0,621.8 981.0,621.8 985.1,621.8 985.1,621.8 989.2,621.8 989.2,621.8 993.4,621.8 993.4,621.8 997.5,621.8 997.5,621.8 1001.6,621.8 1001.6,621.9 1005.8,621.9 1005.8,621.9 1009.9,621.9 1009.9,621.9 1014.0,621.9 1014.0,621.9 1018.2,621.9 1018.2,621.9 1022.3,621.9 1022.3,621.9 1026.4,621.9 1026.4,621.9 1030.6,621.9 1030.6,622.0 1034.7,622.0 1034.7,622.0 1038.8,622.0 1038.8,622.0 1043.0,622.0 1043.0,622.0 1047.1,622.0 1047.1,624.2 1051.2,624.2 1051.2,626.8 1055.4,626.8 1055.4,626.8 1059.5,626.8 1059.5,626.8 1063.7,626.8 1063.7,626.8 1067.8,626.8 1067.8,626.8 1071.9,626.8 1071.9,626.8 1076.1,626.8 1076.1,626.8 1080.2,626.8 1080.2,626.8 1084.3,626.8 1084.3,626.8 1088.5,626.8 1088.5,626.8 1092.6,626.8 1092.6,626.8 1096.7,626.8 1096.7,626.8 1100.9,626.8 1100.9,626.8 1105.0,626.8 1105.0,652.5" fill="#e87d69"/>
<polygon points="92.0,652.5 92.0,618.7 96.1,618.7 96.1,618.3 100.3,618.3 100.3,617.9 104.4,617.9 104.4,617.5 108.5,617.5 108.5,617.1 112.7,617.1 112.7,616.7 116.8,616.7 116.8,616.3 120.9,616.3 120.9,615.8 125.1,615.8 125.1,615.4 129.2,615.4 129.2,614.7 133.3,614.7 133.3,612.4 137.5,612.4 137.5,610.0 141.6,610.0 141.6,607.7 145.8,607.7 145.8,605.4 149.9,605.4 149.9,603.0 154.0,603.0 154.0,607.2 158.2,607.2 158.2,608.2 162.3,608.2 162.3,609.0 166.4,609.0 166.4,609.8 170.6,609.8 170.6,610.6 174.7,610.6 174.7,611.3 178.8,611.3 178.8,611.4 183.0,611.4 183.0,611.4 187.1,611.4 187.1,611.5 191.2,611.5 191.2,611.5 195.4,611.5 195.4,611.6 199.5,611.6 199.5,611.6 203.6,611.6 203.6,611.7 207.8,611.7 207.8,611.7 211.9,611.7 211.9,611.8 216.0,611.8 216.0,611.8 220.2,611.8 220.2,611.9 224.3,611.9 224.3,611.9 228.4,611.9 228.4,612.0 232.6,612.0 232.6,612.0 236.7,612.0 236.7,612.1 240.8,612.1 240.8,612.1 245.0,612.1 245.0,612.2 249.1,612.2 249.1,612.2 253.3,612.2 253.3,612.3 257.4,612.3 257.4,612.3 261.5,612.3 261.5,612.4 265.7,612.4 265.7,612.4 269.8,612.4 269.8,612.5 273.9,612.5 273.9,612.5 278.1,612.5 278.1,612.6 282.2,612.6 282.2,612.6 286.3,612.6 286.3,612.7 290.5,612.7 290.5,612.7 294.6,612.7 294.6,612.8 298.7,612.8 298.7,612.8 302.9,612.8 302.9,612.9 307.0,612.9 307.0,612.9 311.1,612.9 311.1,613.0 315.3,613.0 315.3,613.0 319.4,613.0 319.4,613.1 323.5,613.1 323.5,613.1 327.7,613.1 327.7,613.2 331.8,613.2 331.8,613.2 335.9,613.2 335.9,613.3 340.1,613.3 340.1,613.4 344.2,613.4 344.2,613.4 348.4,613.4 348.4,613.5 352.5,613.5 352.5,613.5 356.6,613.5 356.6,613.6 360.8,613.6 360.8,613.6 364.9,613.6 364.9,613.7 369.0,613.7 369.0,613.7 373.2,613.7 373.2,613.8 377.3,613.8 377.3,613.8 381.4,613.8 381.4,613.9 385.6,613.9 385.6,613.9 389.7,613.9 389.7,614.0 393.8,614.0 393.8,614.0 398.0,614.0 398.0,614.1 402.1,614.1 402.1,613.6 406.2,613.6 406.2,612.4 410.4,612.4 410.4,611.3 414.5,611.3 414.5,610.2 418.6,610.2 418.6,609.1 422.8,609.1 422.8,608.2 426.9,608.2 426.9,607.3 431.0,607.3 431.0,606.7 435.2,606.7 435.2,608.8 439.3,608.8 439.3,609.0 443.4,609.0 443.4,609.1 447.6,609.1 447.6,609.3 451.7,609.3 451.7,609.4 455.9,609.4 455.9,609.6 460.0,609.6 460.0,609.7 464.1,609.7 464.1,609.9 468.3,609.9 468.3,610.1 472.4,610.1 472.4,610.2 476.5,610.2 476.5,610.4 480.7,610.4 480.7,610.5 484.8,610.5 484.8,610.7 488.9,610.7 488.9,610.8 493.1,610.8 493.1,611.0 497.2,611.0 497.2,611.1 501.3,611.1 501.3,611.3 505.5,611.3 505.5,611.4 509.6,611.4 509.6,611.6 513.7,611.6 513.7,611.7 517.9,611.7 517.9,611.9 522.0,611.9 522.0,611.1 526.1,611.1 526.1,610.3 530.3,610.3 530.3,610.3 534.4,610.3 534.4,610.7 538.5,610.7 538.5,611.1 542.7,611.1 542.7,611.5 546.8,611.5 546.8,612.0 551.0,612.0 551.0,612.4 555.1,612.4 555.1,612.8 559.2,612.8 559.2,613.2 563.4,613.2 563.4,613.6 567.5,613.6 567.5,614.0 571.6,614.0 571.6,614.5 575.8,614.5 575.8,614.5 579.9,614.5 579.9,614.3 584.0,614.3 584.0,614.2 588.2,614.2 588.2,614.0 592.3,614.0 592.3,613.8 596.4,613.8 596.4,613.7 600.6,613.7 600.6,613.5 604.7,613.5 604.7,613.3 608.8,613.3 608.8,613.2 613.0,613.2 613.0,613.0 617.1,613.0 617.1,612.8 621.2,612.8 621.2,612.7 625.4,612.7 625.4,612.5 629.5,612.5 629.5,612.3 633.6,612.3 633.6,610.8 637.8,610.8 637.8,615.3 641.9,615.3 641.9,616.1 646.0,616.1 646.0,616.1 650.2,616.1 650.2,616.2 654.3,616.2 654.3,616.2 658.5,616.2 658.5,616.2 662.6,616.2 662.6,616.2 666.7,616.2 666.7,616.2 670.9,616.2 670.9,616.3 675.0,616.3 675.0,616.3 679.1,616.3 679.1,616.3 683.3,616.3 683.3,616.3 687.4,616.3 687.4,616.3 691.5,616.3 691.5,616.4 695.7,616.4 695.7,616.4 699.8,616.4 699.8,616.4 703.9,616.4 703.9,616.4 708.1,616.4 708.1,616.4 712.2,616.4 712.2,616.5 716.3,616.5 716.3,616.5 720.5,616.5 720.5,616.5 724.6,616.5 724.6,616.4 728.7,616.4 728.7,616.3 732.9,616.3 732.9,616.2 737.0,616.2 737.0,616.1 741.1,616.1 741.1,616.0 745.3,616.0 745.3,615.9 749.4,615.9 749.4,615.8 753.6,615.8 753.6,616.8 757.7,616.8 757.7,619.1 761.8,619.1 761.8,619.5 766.0,619.5 766.0,619.6 770.1,619.6 770.1,619.6 774.2,619.6 774.2,619.6 778.4,619.6 778.4,619.7 782.5,619.7 782.5,619.7 786.6,619.7 786.6,619.7 790.8,619.7 790.8,619.8 794.9,619.8 794.9,619.8 799.0,619.8 799.0,619.8 803.2,619.8 803.2,619.8 807.3,619.8 807.3,619.9 811.4,619.9 811.4,619.9 815.6,619.9 815.6,619.9 819.7,619.9 819.7,620.0 823.8,620.0 823.8,620.0 828.0,620.0 828.0,620.0 832.1,620.0 832.1,620.0 836.2,620.0 836.2,620.0 840.4,620.0 840.4,620.0 844.5,620.0 844.5,620.0 848.6,620.0 848.6,620.0 852.8,620.0 852.8,620.0 856.9,620.0 856.9,620.0 861.1,620.0 861.1,620.0 865.2,620.0 865.2,620.0 869.3,620.0 869.3,620.0 873.5,620.0 873.5,620.0 877.6,620.0 877.6,620.0 881.7,620.0 881.7,620.0 885.9,620.0 885.9,620.8 890.0,620.8 890.0,621.5 894.1,621.5 894.1,621.5 898.3,621.5 898.3,621.5 902.4,621.5 902.4,621.5 906.5,621.5 906.5,621.5 910.7,621.5 910.7,621.5 914.8,621.5 914.8,621.5 918.9,621.5 918.9,621.5 923.1,621.5 923.1,621.5 927.2,621.5 927.2,621.5 931.3,621.5 931.3,621.5 935.5,621.5 935.5,621.5 939.6,621.5 939.6,621.5 943.7,621.5 943.7,621.5 947.9,621.5 947.9,621.5 952.0,621.5 952.0,621.5 956.2,621.5 956.2,621.5 960.3,621.5 960.3,621.5 964.4,621.5 964.4,621.5 968.6,621.5 968.6,621.5 972.7,621.5 972.7,621.5 976.8,621.5 976.8,621.5 981.0,621.5 981.0,621.5 985.1,621.5 985.1,621.5 989.2,621.5 989.2,621.5 993.4,621.5 993.4,621.5 997.5,621.5 997.5,621.5 1001.6,621.5 1001.6,621.5 1005.8,621.5 1005.8,621.6 1009.9,621.6 1009.9,621.6 1014.0,621.6 1014.0,621.7 1018.2,621.7 1018.2,621.7 1022.3,621.7 1022.3,621.8 1026.4,621.8 1026.4,621.8 1030.6,621.8 1030.6,621.8 1034.7,621.8 1034.7,621.9 1038.8,621.9 1038.8,621.9 1043.0,621.9 1043.0,622.0 1047.1,622.0 1047.1,624.2 1051.2,624.2 1051.2,626.8 1055.4,626.8 1055.4,626.8 1059.5,626.8 1059.5,626.8 1063.7,626.8 1063.7,626.8 1067.8,626.8 1067.8,626.8 1071.9,626.8 1071.9,626.8 1076.1,626.8 1076.1,626.8 1080.2,626.8 1080.2,626.8 1084.3,626.8 1084.3,626.8 1088.5,626.8 1088.5,626.8 1092.6,626.8 1092.6,626.8 1096.7,626.8 1096.7,626.8 1100.9,626.8 1100.9,626.8 1105.0,626.8 1105.0,652.5" fill="#c81c8c"/>
<polygon points="92.0,652.5 92.0,628.2 96.1,628.2 96.1,627.8 100.3,627.8 100.3,627.4 104.4,627.4 104.4,627.0 108.5,627.0 108.5,626.6 112.7,626.6 112.7,626.2 116.8,626.2 116.8,625.8 120.9,625.8 120.9,625.3 125.1,625.3 125.1,624.9 129.2,624.9 129.2,624.2 133.3,624.2 133.3,621.8 137.5,621.8 137.5,619.4 141.6,619.4 141.6,617.0 145.8,617.0 145.8,614.6 149.9,614.6 149.9,612.2 154.0,612.2 154.0,616.7 158.2,616.7 158.2,617.6 162.3,617.6 162.3,618.3 166.4,618.3 166.4,619.0 170.6,619.0 170.6,619.6 174.7,619.6 174.7,620.2 178.8,620.2 178.8,620.3 183.0,620.3 183.0,620.4 187.1,620.4 187.1,620.5 191.2,620.5 191.2,620.6 195.4,620.6 195.4,620.7 199.5,620.7 199.5,620.8 203.6,620.8 203.6,620.8 207.8,620.8 207.8,620.9 211.9,620.9 211.9,621.0 216.0,621.0 216.0,621.1 220.2,621.1 220.2,621.2 224.3,621.2 224.3,621.3 228.4,621.3 228.4,621.4 232.6,621.4 232.6,621.5 236.7,621.5 236.7,621.6 240.8,621.6 240.8,621.7 245.0,621.7 245.0,621.8 249.1,621.8 249.1,621.9 253.3,621.9 253.3,621.9 257.4,621.9 257.4,622.0 261.5,622.0 261.5,622.1 265.7,622.1 265.7,622.2 269.8,622.2 269.8,622.3 273.9,622.3 273.9,622.4 278.1,622.4 278.1,622.5 282.2,622.5 282.2,622.6 286.3,622.6 286.3,622.7 290.5,622.7 290.5,622.8 294.6,622.8 294.6,622.9 298.7,622.9 298.7,622.9 302.9,622.9 302.9,623.0 307.0,623.0 307.0,623.1 311.1,623.1 311.1,623.2 315.3,623.2 315.3,623.3 319.4,623.3 319.4,623.4 323.5,623.4 323.5,623.5 327.7,623.5 327.7,623.6 331.8,623.6 331.8,623.7 335.9,623.7 335.9,623.8 340.1,623.8 340.1,623.9 344.2,623.9 344.2,624.0 348.4,624.0 348.4,624.1 352.5,624.1 352.5,624.3 356.6,624.3 356.6,624.4 360.8,624.4 360.8,624.5 364.9,624.5 364.9,624.6 369.0,624.6 369.0,624.7 373.2,624.7 373.2,624.8 377.3,624.8 377.3,625.0 381.4,625.0 381.4,625.1 385.6,625.1 385.6,625.2 389.7,625.2 389.7,625.3 393.8,625.3 393.8,625.4 398.0,625.4 398.0,625.5 402.1,625.5 402.1,625.1 406.2,625.1 406.2,623.9 410.4,623.9 410.4,622.7 414.5,622.7 414.5,621.6 418.6,621.6 418.6,620.6 422.8,620.6 422.8,620.0 426.9,620.0 426.9,619.4 431.0,619.4 431.0,618.9 435.2,618.9 435.2,619.2 439.3,619.2 439.3,619.5 443.4,619.5 443.4,619.7 447.6,619.7 447.6,620.0 451.7,620.0 451.7,620.3 455.9,620.3 455.9,620.5 460.0,620.5 460.0,620.8 464.1,620.8 464.1,621.1 468.3,621.1 468.3,621.4 472.4,621.4 472.4,621.6 476.5,621.6 476.5,621.9 480.7,621.9 480.7,622.2 484.8,622.2 484.8,622.4 488.9,622.4 488.9,622.7 493.1,622.7 493.1,623.0 497.2,623.0 497.2,623.2 501.3,623.2 501.3,623.5 505.5,623.5 505.5,623.8 509.6,623.8 509.6,624.1 513.7,624.1 513.7,624.3 517.9,624.3 517.9,624.6 522.0,624.6 522.0,623.8 526.1,623.8 526.1,623.0 530.3,623.0 530.3,623.0 534.4,623.0 534.4,623.4 538.5,623.4 538.5,623.7 542.7,623.7 542.7,624.1 546.8,624.1 546.8,624.5 551.0,624.5 551.0,624.9 555.1,624.9 555.1,625.3 559.2,625.3 559.2,625.7 563.4,625.7 563.4,626.1 567.5,626.1 567.5,626.5 571.6,626.5 571.6,626.9 575.8,626.9 575.8,627.3 579.9,627.3 579.9,627.4 584.0,627.4 584.0,627.2 588.2,627.2 588.2,627.1 592.3,627.1 592.3,626.9 596.4,626.9 596.4,626.7 600.6,626.7 600.6,626.6 604.7,626.6 604.7,626.4 608.8,626.4 608.8,626.2 613.0,626.2 613.0,626.1 617.1,626.1 617.1,625.9 621.2,625.9 621.2,625.7 625.4,625.7 625.4,625.5 629.5,625.5 629.5,625.4 633.6,625.4 633.6,625.2 637.8,625.2 637.8,629.1 641.9,629.1 641.9,629.9 646.0,629.9 646.0,630.1 650.2,630.1 650.2,630.3 654.3,630.3 654.3,630.4 658.5,630.4 658.5,630.6 662.6,630.6 662.6,630.7 666.7,630.7 666.7,630.9 670.9,630.9 670.9,631.1 675.0,631.1 675.0,631.2 679.1,631.2 679.1,631.4 683.3,631.4 683.3,631.6 687.4,631.6 687.4,631.7 691.5,631.7 691.5,631.6 695.7,631.6 695.7,631.5 699.8,631.5 699.8,631.4 703.9,631.4 703.9,631.4 708.1,631.4 708.1,631.3 712.2,631.3 712.2,631.2 716.3,631.2 716.3,631.1 720.5,631.1 720.5,631.0 724.6,631.0 724.6,630.9 728.7,630.9 728.7,630.9 732.9,630.9 732.9,630.8 737.0,630.8 737.0,630.7 741.1,630.7 741.1,630.6 745.3,630.6 745.3,630.5 749.4,630.5 749.4,630.4 753.6,630.4 753.6,631.5 757.7,631.5 757.7,633.8 761.8,633.8 761.8,634.2 766.0,634.2 766.0,634.3 770.1,634.3 770.1,634.4 774.2,634.4 774.2,634.4 778.4,634.4 778.4,634.5 782.5,634.5 782.5,634.5 786.6,634.5 786.6,634.6 790.8,634.6 790.8,634.7 794.9,634.7 794.9,634.7 799.0,634.7 799.0,634.8 803.2,634.8 803.2,634.8 807.3,634.8 807.3,634.9 811.4,634.9 811.4,634.9 815.6,634.9 815.6,635.0 819.7,635.0 819.7,635.1 823.8,635.1 823.8,635.1 828.0,635.1 828.0,635.1 832.1,635.1 832.1,635.1 836.2,635.1 836.2,635.0 840.4,635.0 840.4,635.0 844.5,635.0 844.5,635.0 848.6,635.0 848.6,635.0 852.8,635.0 852.8,635.0 856.9,635.0 856.9,634.9 861.1,634.9 861.1,634.9 865.2,634.9 865.2,634.9 869.3,634.9 869.3,634.9 873.5,634.9 873.5,634.9 877.6,634.9 877.6,634.8 881.7,634.8 881.7,634.8 885.9,634.8 885.9,635.5 890.0,635.5 890.0,636.0 894.1,636.0 894.1,636.0 898.3,636.0 898.3,636.0 902.4,636.0 902.4,636.0 906.5,636.0 906.5,636.0 910.7,636.0 910.7,636.0 914.8,636.0 914.8,636.0 918.9,636.0 918.9,636.0 923.1,636.0 923.1,636.0 927.2,636.0 927.2,636.0 931.3,636.0 931.3,636.0 935.5,636.0 935.5,636.0 939.6,636.0 939.6,636.0 943.7,636.0 943.7,636.0 947.9,636.0 947.9,636.0 952.0,636.0 952.0,636.0 956.2,636.0 956.2,636.0 960.3,636.0 960.3,636.0 964.4,636.0 964.4,636.0 968.6,636.0 968.6,636.0 972.7,636.0 972.7,636.0 976.8,636.0 976.8,636.0 981.0,636.0 981.0,636.0 985.1,636.0 985.1,636.0 989.2,636.0 989.2,636.0 993.4,636.0 993.4,636.0 997.5,636.0 997.5,636.0 1001.6,636.0 1001.6,636.0 1005.8,636.0 1005.8,636.0 1009.9,636.0 1009.9,636.0 1014.0,636.0 1014.0,636.0 1018.2,636.0 1018.2,636.0 1022.3,636.0 1022.3,636.0 1026.4,636.0 1026.4,636.0 1030.6,636.0 1030.6,636.0 1034.7,636.0 1034.7,636.0 1038.8,636.0 1038.8,636.0 1043.0,636.0 1043.0,636.0 1047.1,636.0 1047.1,636.4 1051.2,636.4 1051.2,637.0 1055.4,637.0 1055.4,637.0 1059.5,637.0 1059.5,637.0 1063.7,637.0 1063.7,637.0 1067.8,637.0 1067.8,637.0 1071.9,637.0 1071.9,637.0 1076.1,637.0 1076.1,637.0 1080.2,637.0 1080.2,637.0 1084.3,637.0 1084.3,637.0 1088.5,637.0 1088.5,637.0 1092.6,637.0 1092.6,637.0 1096.7,637.0 1096.7,637.0 1100.9,637.0 1100.9,637.0 1105.0,637.0 1105.0,652.5" fill="#0f8791"/>
<polygon points="92.0,652.5 92.0,638.8 96.1,638.8 96.1,638.6 100.3,638.6 100.3,638.4 104.4,638.4 104.4,638.2 108.5,638.2 108.5,638.0 112.7,638.0 112.7,637.8 116.8,637.8 116.8,637.6 120.9,637.6 120.9,637.4 125.1,637.4 125.1,637.2 129.2,637.2 129.2,636.7 133.3,636.7 133.3,634.7 137.5,634.7 137.5,632.7 141.6,632.7 141.6,630.7 145.8,630.7 145.8,628.7 149.9,628.7 149.9,626.8 154.0,626.8 154.0,629.9 158.2,629.9 158.2,631.2 162.3,631.2 162.3,631.4 166.4,631.4 166.4,631.6 170.6,631.6 170.6,631.9 174.7,631.9 174.7,634.1 178.8,634.1 178.8,635.8 183.0,635.8 183.0,636.2 187.1,636.2 187.1,636.7 191.2,636.7 191.2,637.1 195.4,637.1 195.4,637.5 199.5,637.5 199.5,637.8 203.6,637.8 203.6,637.9 207.8,637.9 207.8,637.9 211.9,637.9 211.9,638.0 216.0,638.0 216.0,638.1 220.2,638.1 220.2,638.1 224.3,638.1 224.3,638.2 228.4,638.2 228.4,638.2 232.6,638.2 232.6,638.3 236.7,638.3 236.7,638.3 240.8,638.3 240.8,638.4 245.0,638.4 245.0,638.5 249.1,638.5 249.1,638.5 253.3,638.5 253.3,638.6 257.4,638.6 257.4,638.6 261.5,638.6 261.5,638.7 265.7,638.7 265.7,638.7 269.8,638.7 269.8,638.8 273.9,638.8 273.9,638.8 278.1,638.8 278.1,638.9 282.2,638.9 282.2,638.9 286.3,638.9 286.3,639.0 290.5,639.0 290.5,639.0 294.6,639.0 294.6,639.0 298.7,639.0 298.7,639.1 302.9,639.1 302.9,639.1 307.0,639.1 307.0,639.2 311.1,639.2 311.1,639.2 315.3,639.2 315.3,639.3 319.4,639.3 319.4,639.3 323.5,639.3 323.5,639.4 327.7,639.4 327.7,639.4 331.8,639.4 331.8,639.5 335.9,639.5 335.9,639.6 340.1,639.6 340.1,639.7 344.2,639.7 344.2,639.8 348.4,639.8 348.4,640.0 352.5,640.0 352.5,640.1 356.6,640.1 356.6,640.2 360.8,640.2 360.8,640.4 364.9,640.4 364.9,640.5 369.0,640.5 369.0,640.6 373.2,640.6 373.2,640.7 377.3,640.7 377.3,640.9 381.4,640.9 381.4,641.0 385.6,641.0 385.6,641.1 389.7,641.1 389.7,641.3 393.8,641.3 393.8,641.4 398.0,641.4 398.0,641.5 402.1,641.5 402.1,641.6 406.2,641.6 406.2,641.6 410.4,641.6 410.4,641.3 414.5,641.3 414.5,641.1 418.6,641.1 418.6,640.9 422.8,640.9 422.8,640.6 426.9,640.6 426.9,640.4 431.0,640.4 431.0,640.2 435.2,640.2 435.2,639.9 439.3,639.9 439.3,639.7 443.4,639.7 443.4,639.5 447.6,639.5 447.6,639.2 451.7,639.2 451.7,639.0 455.9,639.0 455.9,639.0 460.0,639.0 460.0,639.1 464.1,639.1 464.1,639.1 468.3,639.1 468.3,639.1 472.4,639.1 472.4,639.2 476.5,639.2 476.5,639.2 480.7,639.2 480.7,639.2 484.8,639.2 484.8,639.3 488.9,639.3 488.9,639.3 493.1,639.3 493.1,639.3 497.2,639.3 497.2,639.3 501.3,639.3 501.3,639.4 505.5,639.4 505.5,639.4 509.6,639.4 509.6,639.4 513.7,639.4 513.7,639.5 517.9,639.5 517.9,639.5 522.0,639.5 522.0,638.0 526.1,638.0 526.1,636.5 530.3,636.5 530.3,636.1 534.4,636.1 534.4,636.3 538.5,636.3 538.5,636.5 542.7,636.5 542.7,636.8 546.8,636.8 546.8,637.0 551.0,637.0 551.0,637.2 555.1,637.2 555.1,637.4 559.2,637.4 559.2,637.6 563.4,637.6 563.4,637.8 567.5,637.8 567.5,638.0 571.6,638.0 571.6,638.2 575.8,638.2 575.8,638.4 579.9,638.4 579.9,638.4 584.0,638.4 584.0,638.2 588.2,638.2 588.2,637.9 592.3,637.9 592.3,637.7 596.4,637.7 596.4,637.5 600.6,637.5 600.6,637.3 604.7,637.3 604.7,637.1 608.8,637.1 608.8,636.8 613.0,636.8 613.0,636.6 617.1,636.6 617.1,636.4 621.2,636.4 621.2,636.2 625.4,636.2 625.4,635.9 629.5,635.9 629.5,635.7 633.6,635.7 633.6,635.5 637.8,635.5 637.8,638.0 641.9,638.0 641.9,638.6 646.0,638.6 646.0,638.6 650.2,638.6 650.2,638.7 654.3,638.7 654.3,638.8 658.5,638.8 658.5,638.9 662.6,638.9 662.6,639.0 666.7,639.0 666.7,639.0 670.9,639.0 670.9,639.1 675.0,639.1 675.0,639.2 679.1,639.2 679.1,639.3 683.3,639.3 683.3,639.4 687.4,639.4 687.4,639.4 691.5,639.4 691.5,639.5 695.7,639.5 695.7,639.6 699.8,639.6 699.8,639.7 703.9,639.7 703.9,639.8 708.1,639.8 708.1,639.8 712.2,639.8 712.2,639.9 716.3,639.9 716.3,640.0 720.5,640.0 720.5,640.1 724.6,640.1 724.6,640.2 728.7,640.2 728.7,640.2 732.9,640.2 732.9,640.3 737.0,640.3 737.0,640.4 741.1,640.4 741.1,640.5 745.3,640.5 745.3,640.5 749.4,640.5 749.4,640.6 753.6,640.6 753.6,640.7 757.7,640.7 757.7,640.8 761.8,640.8 761.8,640.9 766.0,640.9 766.0,640.9 770.1,640.9 770.1,641.0 774.2,641.0 774.2,641.0 778.4,641.0 778.4,641.1 782.5,641.1 782.5,641.2 786.6,641.2 786.6,641.2 790.8,641.2 790.8,641.3 794.9,641.3 794.9,641.4 799.0,641.4 799.0,641.4 803.2,641.4 803.2,641.5 807.3,641.5 807.3,641.6 811.4,641.6 811.4,641.6 815.6,641.6 815.6,641.7 819.7,641.7 819.7,641.8 823.8,641.8 823.8,641.8 828.0,641.8 828.0,641.7 832.1,641.7 832.1,641.6 836.2,641.6 836.2,641.5 840.4,641.5 840.4,641.4 844.5,641.4 844.5,641.3 848.6,641.3 848.6,641.3 852.8,641.3 852.8,641.2 856.9,641.2 856.9,641.1 861.1,641.1 861.1,641.0 865.2,641.0 865.2,640.9 869.3,640.9 869.3,640.8 873.5,640.8 873.5,640.7 877.6,640.7 877.6,640.7 881.7,640.7 881.7,640.6 885.9,640.6 885.9,641.1 890.0,641.1 890.0,641.6 894.1,641.6 894.1,641.6 898.3,641.6 898.3,641.6 902.4,641.6 902.4,641.6 906.5,641.6 906.5,641.6 910.7,641.6 910.7,641.7 914.8,641.7 914.8,641.7 918.9,641.7 918.9,641.7 923.1,641.7 923.1,641.7 927.2,641.7 927.2,641.7 931.3,641.7 931.3,641.7 935.5,641.7 935.5,641.7 939.6,641.7 939.6,641.7 943.7,641.7 943.7,641.7 947.9,641.7 947.9,641.8 952.0,641.8 952.0,641.8 956.2,641.8 956.2,641.8 960.3,641.8 960.3,641.8 964.4,641.8 964.4,641.8 968.6,641.8 968.6,641.8 972.7,641.8 972.7,641.8 976.8,641.8 976.8,641.8 981.0,641.8 981.0,641.8 985.1,641.8 985.1,641.8 989.2,641.8 989.2,641.9 993.4,641.9 993.4,641.9 997.5,641.9 997.5,641.9 1001.6,641.9 1001.6,641.9 1005.8,641.9 1005.8,641.9 1009.9,641.9 1009.9,641.9 1014.0,641.9 1014.0,641.9 1018.2,641.9 1018.2,641.9 1022.3,641.9 1022.3,641.9 1026.4,641.9 1026.4,641.9 1030.6,641.9 1030.6,642.0 1034.7,642.0 1034.7,642.0 1038.8,642.0 1038.8,642.0 1043.0,642.0 1043.0,642.0 1047.1,642.0 1047.1,642.0 1051.2,642.0 1051.2,642.0 1055.4,642.0 1055.4,642.0 1059.5,642.0 1059.5,642.0 1063.7,642.0 1063.7,642.0 1067.8,642.0 1067.8,642.0 1071.9,642.0 1071.9,642.0 1076.1,642.0 1076.1,642.0 1080.2,642.0 1080.2,642.0 1084.3,642.0 1084.3,642.0 1088.5,642.0 1088.5,642.0 1092.6,642.0 1092.6,642.0 1096.7,642.0 1096.7,642.0 1100.9,642.0 1100.9,642.0 1105.0,642.0 1105.0,652.5" fill="#7ab86a"/>
<polygon points="92.0,652.5 92.0,640.6 96.1,640.6 96.1,640.4 100.3,640.4 100.3,640.2 104.4,640.2 104.4,640.0 108.5,640.0 108.5,639.8 112.7,639.8 112.7,639.6 116.8,639.6 116.8,639.4 120.9,639.4 120.9,639.2 125.1,639.2 125.1,639.0 129.2,639.0 129.2,638.5 133.3,638.5 133.3,636.5 137.5,636.5 137.5,634.5 141.6,634.5 141.6,632.5 145.8,632.5 145.8,630.5 149.9,630.5 149.9,628.6 154.0,628.6 154.0,631.7 158.2,631.7 158.2,633.0 162.3,633.0 162.3,633.2 166.4,633.2 166.4,633.4 170.6,633.4 170.6,633.7 174.7,633.7 174.7,635.9 178.8,635.9 178.8,637.6 183.0,637.6 183.0,638.0 187.1,638.0 187.1,638.5 191.2,638.5 191.2,638.9 195.4,638.9 195.4,639.3 199.5,639.3 199.5,639.6 203.6,639.6 203.6,639.7 207.8,639.7 207.8,639.7 211.9,639.7 211.9,639.8 216.0,639.8 216.0,639.9 220.2,639.9 220.2,639.9 224.3,639.9 224.3,640.0 228.4,640.0 228.4,640.0 232.6,640.0 232.6,640.1 236.7,640.1 236.7,640.1 240.8,640.1 240.8,640.2 245.0,640.2 245.0,640.3 249.1,640.3 249.1,640.3 253.3,640.3 253.3,640.4 257.4,640.4 257.4,640.4 261.5,640.4 261.5,640.5 265.7,640.5 265.7,640.5 269.8,640.5 269.8,640.6 273.9,640.6 273.9,640.6 278.1,640.6 278.1,640.7 282.2,640.7 282.2,640.7 286.3,640.7 286.3,640.8 290.5,640.8 290.5,640.8 294.6,640.8 294.6,640.8 298.7,640.8 298.7,640.9 302.9,640.9 302.9,640.9 307.0,640.9 307.0,641.0 311.1,641.0 311.1,641.0 315.3,641.0 315.3,641.1 319.4,641.1 319.4,641.1 323.5,641.1 323.5,641.2 327.7,641.2 327.7,641.2 331.8,641.2 331.8,641.3 335.9,641.3 335.9,641.4 340.1,641.4 340.1,641.5 344.2,641.5 344.2,641.6 348.4,641.6 348.4,641.8 352.5,641.8 352.5,641.9 356.6,641.9 356.6,642.0 360.8,642.0 360.8,642.2 364.9,642.2 364.9,642.3 369.0,642.3 369.0,642.4 373.2,642.4 373.2,642.5 377.3,642.5 377.3,642.7 381.4,642.7 381.4,642.8 385.6,642.8 385.6,642.9 389.7,642.9 389.7,643.1 393.8,643.1 393.8,643.2 398.0,643.2 398.0,643.3 402.1,643.3 402.1,643.4 406.2,643.4 406.2,643.4 410.4,643.4 410.4,643.1 414.5,643.1 414.5,642.9 418.6,642.9 418.6,642.7 422.8,642.7 422.8,642.4 426.9,642.4 426.9,642.2 431.0,642.2 431.0,642.0 435.2,642.0 435.2,641.7 439.3,641.7 439.3,641.5 443.4,641.5 443.4,641.3 447.6,641.3 447.6,641.0 451.7,641.0 451.7,640.8 455.9,640.8 455.9,640.8 460.0,640.8 460.0,640.9 464.1,640.9 464.1,640.9 468.3,640.9 468.3,640.9 472.4,640.9 472.4,641.0 476.5,641.0 476.5,641.0 480.7,641.0 480.7,641.0 484.8,641.0 484.8,641.1 488.9,641.1 488.9,641.1 493.1,641.1 493.1,641.1 497.2,641.1 497.2,641.1 501.3,641.1 501.3,641.2 505.5,641.2 505.5,641.2 509.6,641.2 509.6,641.2 513.7,641.2 513.7,641.3 517.9,641.3 517.9,641.3 522.0,641.3 522.0,639.8 526.1,639.8 526.1,638.3 530.3,638.3 530.3,637.9 534.4,637.9 534.4,638.1 538.5,638.1 538.5,638.3 542.7,638.3 542.7,638.6 546.8,638.6 546.8,638.8 551.0,638.8 551.0,639.0 555.1,639.0 555.1,639.2 559.2,639.2 559.2,639.4 563.4,639.4 563.4,639.6 567.5,639.6 567.5,639.8 571.6,639.8 571.6,640.0 575.8,640.0 575.8,640.2 579.9,640.2 579.9,640.2 584.0,640.2 584.0,640.0 588.2,640.0 588.2,639.7 592.3,639.7 592.3,639.5 596.4,639.5 596.4,639.3 600.6,639.3 600.6,639.1 604.7,639.1 604.7,638.9 608.8,638.9 608.8,638.6 613.0,638.6 613.0,638.4 617.1,638.4 617.1,638.2 621.2,638.2 621.2,638.0 625.4,638.0 625.4,637.7 629.5,637.7 629.5,637.5 633.6,637.5 633.6,637.3 637.8,637.3 637.8,639.8 641.9,639.8 641.9,640.4 646.0,640.4 646.0,640.4 650.2,640.4 650.2,640.5 654.3,640.5 654.3,640.6 658.5,640.6 658.5,640.7 662.6,640.7 662.6,640.8 666.7,640.8 666.7,640.8 670.9,640.8 670.9,640.9 675.0,640.9 675.0,641.0 679.1,641.0 679.1,641.1 683.3,641.1 683.3,641.2 687.4,641.2 687.4,641.2 691.5,641.2 691.5,641.3 695.7,641.3 695.7,641.4 699.8,641.4 699.8,641.5 703.9,641.5 703.9,641.6 708.1,641.6 708.1,641.6 712.2,641.6 712.2,641.7 716.3,641.7 716.3,641.8 720.5,641.8 720.5,641.9 724.6,641.9 724.6,642.0 728.7,642.0 728.7,642.0 732.9,642.0 732.9,642.1 737.0,642.1 737.0,642.2 741.1,642.2 741.1,642.3 745.3,642.3 745.3,642.3 749.4,642.3 749.4,642.4 753.6,642.4 753.6,642.5 757.7,642.5 757.7,642.6 761.8,642.6 761.8,642.7 766.0,642.7 766.0,642.7 770.1,642.7 770.1,642.8 774.2,642.8 774.2,642.8 778.4,642.8 778.4,642.9 782.5,642.9 782.5,643.0 786.6,643.0 786.6,643.0 790.8,643.0 790.8,643.1 794.9,643.1 794.9,643.2 799.0,643.2 799.0,643.2 803.2,643.2 803.2,643.3 807.3,643.3 807.3,643.4 811.4,643.4 811.4,643.4 815.6,643.4 815.6,643.5 819.7,643.5 819.7,643.6 823.8,643.6 823.8,643.6 828.0,643.6 828.0,643.5 832.1,643.5 832.1,643.4 836.2,643.4 836.2,643.3 840.4,643.3 840.4,643.2 844.5,643.2 844.5,643.1 848.6,643.1 848.6,643.1 852.8,643.1 852.8,643.0 856.9,643.0 856.9,642.9 861.1,642.9 861.1,642.8 865.2,642.8 865.2,642.7 869.3,642.7 869.3,642.6 873.5,642.6 873.5,642.5 877.6,642.5 877.6,642.5 881.7,642.5 881.7,642.4 885.9,642.4 885.9,642.9 890.0,642.9 890.0,643.4 894.1,643.4 894.1,643.4 898.3,643.4 898.3,643.4 902.4,643.4 902.4,643.4 906.5,643.4 906.5,643.4 910.7,643.4 910.7,643.5 914.8,643.5 914.8,643.5 918.9,643.5 918.9,643.5 923.1,643.5 923.1,643.5 927.2,643.5 927.2,643.5 931.3,643.5 931.3,643.5 935.5,643.5 935.5,643.5 939.6,643.5 939.6,643.5 943.7,643.5 943.7,643.5 947.9,643.5 947.9,643.6 952.0,643.6 952.0,643.6 956.2,643.6 956.2,643.6 960.3,643.6 960.3,643.6 964.4,643.6 964.4,643.6 968.6,643.6 968.6,643.6 972.7,643.6 972.7,643.6 976.8,643.6 976.8,643.6 981.0,643.6 981.0,643.6 985.1,643.6 985.1,643.6 989.2,643.6 989.2,643.7 993.4,643.7 993.4,643.7 997.5,643.7 997.5,643.7 1001.6,643.7 1001.6,643.7 1005.8,643.7 1005.8,643.7 1009.9,643.7 1009.9,643.7 1014.0,643.7 1014.0,643.7 1018.2,643.7 1018.2,643.7 1022.3,643.7 1022.3,643.7 1026.4,643.7 1026.4,643.7 1030.6,643.7 1030.6,643.8 1034.7,643.8 1034.7,643.8 1038.8,643.8 1038.8,643.8 1043.0,643.8 1043.0,643.8 1047.1,643.8 1047.1,643.8 1051.2,643.8 1051.2,643.8 1055.4,643.8 1055.4,643.8 1059.5,643.8 1059.5,643.8 1063.7,643.8 1063.7,643.8 1067.8,643.8 1067.8,643.8 1071.9,643.8 1071.9,643.8 1076.1,643.8 1076.1,643.8 1080.2,643.8 1080.2,643.8 1084.3,643.8 1084.3,643.8 1088.5,643.8 1088.5,643.8 1092.6,643.8 1092.6,643.8 1096.7,643.8 1096.7,643.8 1100.9,643.8 1100.9,643.8 1105.0,643.8 1105.0,652.5" fill="#c64a6a"/>
<polygon points="92.0,652.5 92.0,642.6 96.1,642.6 96.1,642.4 100.3,642.4 100.3,642.2 104.4,642.2 104.4,642.0 108.5,642.0 108.5,641.8 112.7,641.8 112.7,641.6 116.8,641.6 116.8,641.4 120.9,641.4 120.9,641.2 125.1,641.2 125.1,641.0 129.2,641.0 129.2,640.5 133.3,640.5 133.3,638.5 137.5,638.5 137.5,636.5 141.6,636.5 141.6,634.5 145.8,634.5 145.8,632.5 149.9,632.5 149.9,630.6 154.0,630.6 154.0,633.7 158.2,633.7 158.2,635.0 162.3,635.0 162.3,635.2 166.4,635.2 166.4,635.4 170.6,635.4 170.6,635.7 174.7,635.7 174.7,637.9 178.8,637.9 178.8,639.6 183.0,639.6 183.0,640.0 187.1,640.0 187.1,640.5 191.2,640.5 191.2,640.9 195.4,640.9 195.4,641.3 199.5,641.3 199.5,641.6 203.6,641.6 203.6,641.7 207.8,641.7 207.8,641.7 211.9,641.7 211.9,641.8 216.0,641.8 216.0,641.9 220.2,641.9 220.2,641.9 224.3,641.9 224.3,642.0 228.4,642.0 228.4,642.0 232.6,642.0 232.6,642.1 236.7,642.1 236.7,642.1 240.8,642.1 240.8,642.2 245.0,642.2 245.0,642.3 249.1,642.3 249.1,642.3 253.3,642.3 253.3,642.4 257.4,642.4 257.4,642.4 261.5,642.4 261.5,642.5 265.7,642.5 265.7,642.5 269.8,642.5 269.8,642.6 273.9,642.6 273.9,642.6 278.1,642.6 278.1,642.7 282.2,642.7 282.2,642.7 286.3,642.7 286.3,642.8 290.5,642.8 290.5,642.8 294.6,642.8 294.6,642.8 298.7,642.8 298.7,642.9 302.9,642.9 302.9,642.9 307.0,642.9 307.0,643.0 311.1,643.0 311.1,643.0 315.3,643.0 315.3,643.1 319.4,643.1 319.4,643.1 323.5,643.1 323.5,643.2 327.7,643.2 327.7,643.2 331.8,643.2 331.8,643.3 335.9,643.3 335.9,643.4 340.1,643.4 340.1,643.5 344.2,643.5 344.2,643.6 348.4,643.6 348.4,643.8 352.5,643.8 352.5,643.9 356.6,643.9 356.6,644.0 360.8,644.0 360.8,644.2 364.9,644.2 364.9,644.3 369.0,644.3 369.0,644.4 373.2,644.4 373.2,644.5 377.3,644.5 377.3,644.7 381.4,644.7 381.4,644.8 385.6,644.8 385.6,644.9 389.7,644.9 389.7,645.1 393.8,645.1 393.8,645.2 398.0,645.2 398.0,645.3 402.1,645.3 402.1,645.4 406.2,645.4 406.2,645.4 410.4,645.4 410.4,645.1 414.5,645.1 414.5,644.9 418.6,644.9 418.6,644.7 422.8,644.7 422.8,644.4 426.9,644.4 426.9,644.2 431.0,644.2 431.0,644.0 435.2,644.0 435.2,643.7 439.3,643.7 439.3,643.5 443.4,643.5 443.4,643.3 447.6,643.3 447.6,643.0 451.7,643.0 451.7,642.8 455.9,642.8 455.9,642.8 460.0,642.8 460.0,642.9 464.1,642.9 464.1,642.9 468.3,642.9 468.3,642.9 472.4,642.9 472.4,643.0 476.5,643.0 476.5,643.0 480.7,643.0 480.7,643.0 484.8,643.0 484.8,643.1 488.9,643.1 488.9,643.1 493.1,643.1 493.1,643.1 497.2,643.1 497.2,643.1 501.3,643.1 501.3,643.2 505.5,643.2 505.5,643.2 509.6,643.2 509.6,643.2 513.7,643.2 513.7,643.3 517.9,643.3 517.9,643.3 522.0,643.3 522.0,641.8 526.1,641.8 526.1,640.3 530.3,640.3 530.3,639.9 534.4,639.9 534.4,640.1 538.5,640.1 538.5,640.3 542.7,640.3 542.7,640.6 546.8,640.6 546.8,640.8 551.0,640.8 551.0,641.0 555.1,641.0 555.1,641.2 559.2,641.2 559.2,641.4 563.4,641.4 563.4,641.6 567.5,641.6 567.5,641.8 571.6,641.8 571.6,642.0 575.8,642.0 575.8,642.2 579.9,642.2 579.9,642.2 584.0,642.2 584.0,642.0 588.2,642.0 588.2,641.7 592.3,641.7 592.3,641.5 596.4,641.5 596.4,641.3 600.6,641.3 600.6,641.1 604.7,641.1 604.7,640.9 608.8,640.9 608.8,640.6 613.0,640.6 613.0,640.4 617.1,640.4 617.1,640.2 621.2,640.2 621.2,640.0 625.4,640.0 625.4,639.7 629.5,639.7 629.5,639.5 633.6,639.5 633.6,639.3 637.8,639.3 637.8,641.8 641.9,641.8 641.9,642.4 646.0,642.4 646.0,642.4 650.2,642.4 650.2,642.5 654.3,642.5 654.3,642.6 658.5,642.6 658.5,642.7 662.6,642.7 662.6,642.8 666.7,642.8 666.7,642.8 670.9,642.8 670.9,642.9 675.0,642.9 675.0,643.0 679.1,643.0 679.1,643.1 683.3,643.1 683.3,643.2 687.4,643.2 687.4,643.2 691.5,643.2 691.5,643.3 695.7,643.3 695.7,643.4 699.8,643.4 699.8,643.5 703.9,643.5 703.9,643.6 708.1,643.6 708.1,643.6 712.2,643.6 712.2,643.7 716.3,643.7 716.3,643.8 720.5,643.8 720.5,643.9 724.6,643.9 724.6,644.0 728.7,644.0 728.7,644.0 732.9,644.0 732.9,644.1 737.0,644.1 737.0,644.2 741.1,644.2 741.1,644.3 745.3,644.3 745.3,644.3 749.4,644.3 749.4,644.4 753.6,644.4 753.6,644.5 757.7,644.5 757.7,644.6 761.8,644.6 761.8,644.7 766.0,644.7 766.0,644.7 770.1,644.7 770.1,644.8 774.2,644.8 774.2,644.8 778.4,644.8 778.4,644.9 782.5,644.9 782.5,645.0 786.6,645.0 786.6,645.0 790.8,645.0 790.8,645.1 794.9,645.1 794.9,645.2 799.0,645.2 799.0,645.2 803.2,645.2 803.2,645.3 807.3,645.3 807.3,645.4 811.4,645.4 811.4,645.4 815.6,645.4 815.6,645.5 819.7,645.5 819.7,645.6 823.8,645.6 823.8,645.6 828.0,645.6 828.0,645.5 832.1,645.5 832.1,645.4 836.2,645.4 836.2,645.3 840.4,645.3 840.4,645.2 844.5,645.2 844.5,645.1 848.6,645.1 848.6,645.1 852.8,645.1 852.8,645.0 856.9,645.0 856.9,644.9 861.1,644.9 861.1,644.8 865.2,644.8 865.2,644.7 869.3,644.7 869.3,644.6 873.5,644.6 873.5,644.5 877.6,644.5 877.6,644.5 881.7,644.5 881.7,644.4 885.9,644.4 885.9,644.9 890.0,644.9 890.0,645.4 894.1,645.4 894.1,645.4 898.3,645.4 898.3,645.4 902.4,645.4 902.4,645.4 906.5,645.4 906.5,645.4 910.7,645.4 910.7,645.5 914.8,645.5 914.8,645.5 918.9,645.5 918.9,645.5 923.1,645.5 923.1,645.5 927.2,645.5 927.2,645.5 931.3,645.5 931.3,645.5 935.5,645.5 935.5,645.5 939.6,645.5 939.6,645.5 943.7,645.5 943.7,645.5 947.9,645.5 947.9,645.6 952.0,645.6 952.0,645.6 956.2,645.6 956.2,645.6 960.3,645.6 960.3,645.6 964.4,645.6 964.4,645.6 968.6,645.6 968.6,645.6 972.7,645.6 972.7,645.6 976.8,645.6 976.8,645.6 981.0,645.6 981.0,645.6 985.1,645.6 985.1,645.6 989.2,645.6 989.2,645.7 993.4,645.7 993.4,645.7 997.5,645.7 997.5,645.7 1001.6,645.7 1001.6,645.7 1005.8,645.7 1005.8,645.7 1009.9,645.7 1009.9,645.7 1014.0,645.7 1014.0,645.7 1018.2,645.7 1018.2,645.7 1022.3,645.7 1022.3,645.7 1026.4,645.7 1026.4,645.7 1030.6,645.7 1030.6,645.8 1034.7,645.8 1034.7,645.8 1038.8,645.8 1038.8,645.8 1043.0,645.8 1043.0,645.8 1047.1,645.8 1047.1,645.8 1051.2,645.8 1051.2,645.8 1055.4,645.8 1055.4,645.8 1059.5,645.8 1059.5,645.8 1063.7,645.8 1063.7,645.8 1067.8,645.8 1067.8,645.8 1071.9,645.8 1071.9,645.8 1076.1,645.8 1076.1,645.8 1080.2,645.8 1080.2,645.8 1084.3,645.8 1084.3,645.8 1088.5,645.8 1088.5,645.8 1092.6,645.8 1092.6,645.8 1096.7,645.8 1096.7,645.8 1100.9,645.8 1100.9,645.8 1105.0,645.8 1105.0,652.5" fill="#2a7e92"/>
<polygon points="92.0,652.5 92.0,648.7 96.1,648.7 96.1,648.6 100.3,648.6 100.3,648.5 104.4,648.5 104.4,648.3 108.5,648.3 108.5,648.2 112.7,648.2 112.7,648.0 116.8,648.0 116.8,647.9 120.9,647.9 120.9,647.8 125.1,647.8 125.1,647.6 129.2,647.6 129.2,647.2 133.3,647.2 133.3,645.1 137.5,645.1 137.5,643.0 141.6,643.0 141.6,640.9 145.8,640.9 145.8,638.8 149.9,638.8 149.9,636.7 154.0,636.7 154.0,639.5 158.2,639.5 158.2,640.8 162.3,640.8 162.3,641.1 166.4,641.1 166.4,641.5 170.6,641.5 170.6,641.8 174.7,641.8 174.7,643.8 178.8,643.8 178.8,645.2 183.0,645.2 183.0,645.5 187.1,645.5 187.1,645.8 191.2,645.8 191.2,646.0 195.4,646.0 195.4,646.3 199.5,646.3 199.5,646.5 203.6,646.5 203.6,646.6 207.8,646.6 207.8,646.6 211.9,646.6 211.9,646.6 216.0,646.6 216.0,646.7 220.2,646.7 220.2,646.7 224.3,646.7 224.3,646.8 228.4,646.8 228.4,646.8 232.6,646.8 232.6,646.8 236.7,646.8 236.7,646.9 240.8,646.9 240.8,646.9 245.0,646.9 245.0,647.0 249.1,647.0 249.1,647.0 253.3,647.0 253.3,647.0 257.4,647.0 257.4,647.1 261.5,647.1 261.5,647.1 265.7,647.1 265.7,647.1 269.8,647.1 269.8,647.2 273.9,647.2 273.9,647.2 278.1,647.2 278.1,647.2 282.2,647.2 282.2,647.2 286.3,647.2 286.3,647.3 290.5,647.3 290.5,647.3 294.6,647.3 294.6,647.3 298.7,647.3 298.7,647.4 302.9,647.4 302.9,647.4 307.0,647.4 307.0,647.4 311.1,647.4 311.1,647.4 315.3,647.4 315.3,647.5 319.4,647.5 319.4,647.5 323.5,647.5 323.5,647.5 327.7,647.5 327.7,647.6 331.8,647.6 331.8,647.6 335.9,647.6 335.9,647.6 340.1,647.6 340.1,647.6 344.2,647.6 344.2,647.6 348.4,647.6 348.4,647.7 352.5,647.7 352.5,647.7 356.6,647.7 356.6,647.7 360.8,647.7 360.8,647.7 364.9,647.7 364.9,647.7 369.0,647.7 369.0,647.7 373.2,647.7 373.2,647.8 377.3,647.8 377.3,647.8 381.4,647.8 381.4,647.8 385.6,647.8 385.6,647.8 389.7,647.8 389.7,647.8 393.8,647.8 393.8,647.8 398.0,647.8 398.0,647.8 402.1,647.8 402.1,647.9 406.2,647.9 406.2,647.9 410.4,647.9 410.4,647.9 414.5,647.9 414.5,647.9 418.6,647.9 418.6,647.9 422.8,647.9 422.8,647.9 426.9,647.9 426.9,648.0 431.0,648.0 431.0,648.0 435.2,648.0 435.2,648.0 439.3,648.0 439.3,647.9 443.4,647.9 443.4,647.8 447.6,647.8 447.6,647.6 451.7,647.6 451.7,647.4 455.9,647.4 455.9,647.3 460.0,647.3 460.0,647.1 464.1,647.1 464.1,646.9 468.3,646.9 468.3,646.7 472.4,646.7 472.4,646.6 476.5,646.6 476.5,646.4 480.7,646.4 480.7,646.2 484.8,646.2 484.8,646.0 488.9,646.0 488.9,645.9 493.1,645.9 493.1,645.7 497.2,645.7 497.2,645.5 501.3,645.5 501.3,645.1 505.5,645.1 505.5,644.7 509.6,644.7 509.6,644.3 513.7,644.3 513.7,643.9 517.9,643.9 517.9,643.4 522.0,643.4 522.0,643.0 526.1,643.0 526.1,642.6 530.3,642.6 530.3,643.3 534.4,643.3 534.4,644.0 538.5,644.0 538.5,644.8 542.7,644.8 542.7,645.5 546.8,645.5 546.8,645.5 551.0,645.5 551.0,645.6 555.1,645.6 555.1,645.6 559.2,645.6 559.2,645.6 563.4,645.6 563.4,645.7 567.5,645.7 567.5,645.7 571.6,645.7 571.6,645.8 575.8,645.8 575.8,645.8 579.9,645.8 579.9,645.8 584.0,645.8 584.0,645.9 588.2,645.9 588.2,645.9 592.3,645.9 592.3,645.9 596.4,645.9 596.4,646.0 600.6,646.0 600.6,645.8 604.7,645.8 604.7,645.5 608.8,645.5 608.8,645.3 613.0,645.3 613.0,645.0 617.1,645.0 617.1,644.7 621.2,644.7 621.2,644.4 625.4,644.4 625.4,644.2 629.5,644.2 629.5,644.4 633.6,644.4 633.6,645.4 637.8,645.4 637.8,646.5 641.9,646.5 641.9,646.5 646.0,646.5 646.0,646.5 650.2,646.5 650.2,646.5 654.3,646.5 654.3,646.5 658.5,646.5 658.5,646.5 662.6,646.5 662.6,646.5 666.7,646.5 666.7,646.5 670.9,646.5 670.9,646.5 675.0,646.5 675.0,646.5 679.1,646.5 679.1,646.5 683.3,646.5 683.3,646.5 687.4,646.5 687.4,646.6 691.5,646.6 691.5,646.6 695.7,646.6 695.7,646.6 699.8,646.6 699.8,646.6 703.9,646.6 703.9,646.6 708.1,646.6 708.1,646.6 712.2,646.6 712.2,646.6 716.3,646.6 716.3,646.6 720.5,646.6 720.5,646.6 724.6,646.6 724.6,646.6 728.7,646.6 728.7,646.6 732.9,646.6 732.9,646.6 737.0,646.6 737.0,646.6 741.1,646.6 741.1,646.6 745.3,646.6 745.3,646.6 749.4,646.6 749.4,646.6 753.6,646.6 753.6,646.6 757.7,646.6 757.7,646.6 761.8,646.6 761.8,646.6 766.0,646.6 766.0,646.6 770.1,646.6 770.1,646.6 774.2,646.6 774.2,646.6 778.4,646.6 778.4,646.7 782.5,646.7 782.5,646.7 786.6,646.7 786.6,646.7 790.8,646.7 790.8,646.7 794.9,646.7 794.9,646.7 799.0,646.7 799.0,646.7 803.2,646.7 803.2,646.7 807.3,646.7 807.3,646.7 811.4,646.7 811.4,646.7 815.6,646.7 815.6,646.7 819.7,646.7 819.7,646.7 823.8,646.7 823.8,646.7 828.0,646.7 828.0,646.7 832.1,646.7 832.1,646.7 836.2,646.7 836.2,646.7 840.4,646.7 840.4,646.7 844.5,646.7 844.5,646.7 848.6,646.7 848.6,646.7 852.8,646.7 852.8,646.7 856.9,646.7 856.9,646.7 861.1,646.7 861.1,646.7 865.2,646.7 865.2,646.7 869.3,646.7 869.3,646.7 873.5,646.7 873.5,646.8 877.6,646.8 877.6,646.8 881.7,646.8 881.7,646.8 885.9,646.8 885.9,646.8 890.0,646.8 890.0,646.8 894.1,646.8 894.1,646.8 898.3,646.8 898.3,646.8 902.4,646.8 902.4,646.8 906.5,646.8 906.5,646.8 910.7,646.8 910.7,646.8 914.8,646.8 914.8,646.8 918.9,646.8 918.9,646.8 923.1,646.8 923.1,646.8 927.2,646.8 927.2,646.8 931.3,646.8 931.3,646.8 935.5,646.8 935.5,646.8 939.6,646.8 939.6,646.8 943.7,646.8 943.7,646.8 947.9,646.8 947.9,646.8 952.0,646.8 952.0,646.8 956.2,646.8 956.2,646.8 960.3,646.8 960.3,646.8 964.4,646.8 964.4,646.9 968.6,646.9 968.6,646.9 972.7,646.9 972.7,646.9 976.8,646.9 976.8,646.9 981.0,646.9 981.0,646.9 985.1,646.9 985.1,646.9 989.2,646.9 989.2,646.9 993.4,646.9 993.4,646.9 997.5,646.9 997.5,646.9 1001.6,646.9 1001.6,646.9 1005.8,646.9 1005.8,646.9 1009.9,646.9 1009.9,646.9 1014.0,646.9 1014.0,646.9 1018.2,646.9 1018.2,646.9 1022.3,646.9 1022.3,646.9 1026.4,646.9 1026.4,646.9 1030.6,646.9 1030.6,646.9 1034.7,646.9 1034.7,646.9 1038.8,646.9 1038.8,646.9 1043.0,646.9 1043.0,646.9 1047.1,646.9 1047.1,646.9 1051.2,646.9 1051.2,646.9 1055.4,646.9 1055.4,646.9 1059.5,646.9 1059.5,647.0 1063.7,647.0 1063.7,647.0 1067.8,647.0 1067.8,647.0 1071.9,647.0 1071.9,647.0 1076.1,647.0 1076.1,647.0 1080.2,647.0 1080.2,647.0 1084.3,647.0 1084.3,647.0 1088.5,647.0 1088.5,647.0 1092.6,647.0 1092.6,647.0 1096.7,647.0 1096.7,647.0 1100.9,647.0 1100.9,647.0 1105.0,647.0 1105.0,652.5" fill="#d2b482"/>
<rect x="92" y="651" width="348" height="1.5" fill="#efd6cf"/><rect x="440" y="648.5" width="320" height="4" fill="#d6df8a"/><rect x="760" y="649" width="345" height="3.5" fill="#e4dcc0"/>
<polygon points="92.0,652.5 92.0,130.5 96.1,130.5 96.1,129.5 100.3,129.5 100.3,128.5 104.4,128.5 104.4,127.5 108.5,127.5 108.5,126.7 112.7,126.7 112.7,125.9 116.8,125.9 116.8,123.6 120.9,123.6 120.9,120.8 125.1,120.8 125.1,118.1 129.2,118.1 129.2,115.0 133.3,115.0 133.3,111.6 137.5,111.6 137.5,108.2 141.6,108.2 141.6,104.8 145.8,104.8 145.8,102.5 149.9,102.5 149.9,100.1 154.0,100.1 154.0,104.0 158.2,104.0 158.2,104.4 162.3,104.4 162.3,104.4 166.4,104.4 166.4,104.4 170.6,104.4 170.6,104.4 174.7,104.4 174.7,105.5 178.8,105.5 178.8,105.6 183.0,105.6 183.0,104.8 187.1,104.8 187.1,104.1 191.2,104.1 191.2,103.3 195.4,103.3 195.4,102.6 199.5,102.6 199.5,101.8 203.6,101.8 203.6,101.0 207.8,101.0 207.8,100.1 211.9,100.1 211.9,99.2 216.0,99.2 216.0,98.3 220.2,98.3 220.2,97.6 224.3,97.6 224.3,97.0 228.4,97.0 228.4,96.5 232.6,96.5 232.6,95.9 236.7,95.9 236.7,94.8 240.8,94.8 240.8,93.2 245.0,93.2 245.0,91.5 249.1,91.5 249.1,89.9 253.3,89.9 253.3,90.0 257.4,90.0 257.4,90.2 261.5,90.2 261.5,90.3 265.7,90.3 265.7,90.5 269.8,90.5 269.8,90.7 273.9,90.7 273.9,91.7 278.1,91.7 278.1,92.7 282.2,92.7 282.2,93.7 286.3,93.7 286.3,94.7 290.5,94.7 290.5,95.7 294.6,95.7 294.6,96.7 298.7,96.7 298.7,112.3 302.9,112.3 302.9,129.9 307.0,129.9 307.0,129.5 311.1,129.5 311.1,129.1 315.3,129.1 315.3,128.7 319.4,128.7 319.4,129.2 323.5,129.2 323.5,130.0 327.7,130.0 327.7,133.4 331.8,133.4 331.8,170.4 335.9,170.4 335.9,170.7 340.1,170.7 340.1,171.0 344.2,171.0 344.2,171.3 348.4,171.3 348.4,171.6 352.5,171.6 352.5,191.2 356.6,191.2 356.6,190.8 360.8,190.8 360.8,190.4 364.9,190.4 364.9,198.7 369.0,198.7 369.0,199.6 373.2,199.6 373.2,200.4 377.3,200.4 377.3,201.2 381.4,201.2 381.4,202.1 385.6,202.1 385.6,200.5 389.7,200.5 389.7,209.0 393.8,209.0 393.8,209.0 398.0,209.0 398.0,209.0 402.1,209.0 402.1,207.5 406.2,207.5 406.2,205.0 410.4,205.0 410.4,202.4 414.5,202.4 414.5,199.9 418.6,199.9 418.6,198.2 422.8,198.2 422.8,196.5 426.9,196.5 426.9,194.8 431.0,194.8 431.0,193.1 435.2,193.1 435.2,191.6 439.3,191.6 439.3,190.0 443.4,190.0 443.4,188.5 447.6,188.5 447.6,185.0 451.7,185.0 451.7,181.5 455.9,181.5 455.9,178.0 460.0,178.0 460.0,177.4 464.1,177.4 464.1,179.6 468.3,179.6 468.3,177.3 472.4,177.3 472.4,174.9 476.5,174.9 476.5,172.6 480.7,172.6 480.7,184.5 484.8,184.5 484.8,186.1 488.9,186.1 488.9,185.1 493.1,185.1 493.1,184.0 497.2,184.0 497.2,190.8 501.3,190.8 501.3,191.9 505.5,191.9 505.5,188.8 509.6,188.8 509.6,185.8 513.7,185.8 513.7,182.8 517.9,182.8 517.9,179.8 522.0,179.8 522.0,176.8 526.1,176.8 526.1,173.8 530.3,173.8 530.3,172.9 534.4,172.9 534.4,173.9 538.5,173.9 538.5,181.5 542.7,181.5 542.7,180.1 546.8,180.1 546.8,178.7 551.0,178.7 551.0,177.4 555.1,177.4 555.1,176.0 559.2,176.0 559.2,175.3 563.4,175.3 563.4,175.3 567.5,175.3 567.5,174.8 571.6,174.8 571.6,172.3 575.8,172.3 575.8,169.7 579.9,169.7 579.9,167.2 584.0,167.2 584.0,164.6 588.2,164.6 588.2,170.1 592.3,170.1 592.3,168.5 596.4,168.5 596.4,167.0 600.6,167.0 600.6,165.5 604.7,165.5 604.7,163.9 608.8,163.9 608.8,162.4 613.0,162.4 613.0,160.9 617.1,160.9 617.1,167.0 621.2,167.0 621.2,165.2 625.4,165.2 625.4,163.3 629.5,163.3 629.5,161.9 633.6,161.9 633.6,161.2 637.8,161.2 637.8,160.6 641.9,160.6 641.9,159.9 646.0,159.9 646.0,159.2 650.2,159.2 650.2,158.5 654.3,158.5 654.3,157.8 658.5,157.8 658.5,159.5 662.6,159.5 662.6,157.8 666.7,157.8 666.7,156.1 670.9,156.1 670.9,154.4 675.0,154.4 675.0,152.8 679.1,152.8 679.1,153.6 683.3,153.6 683.3,154.3 687.4,154.3 687.4,150.9 691.5,150.9 691.5,147.4 695.7,147.4 695.7,143.8 699.8,143.8 699.8,143.0 703.9,143.0 703.9,161.3 708.1,161.3 708.1,160.6 712.2,160.6 712.2,159.9 716.3,159.9 716.3,158.9 720.5,158.9 720.5,156.4 724.6,156.4 724.6,153.9 728.7,153.9 728.7,153.1 732.9,153.1 732.9,150.3 737.0,150.3 737.0,146.5 741.1,146.5 741.1,142.6 745.3,142.6 745.3,138.8 749.4,138.8 749.4,136.4 753.6,136.4 753.6,136.2 757.7,136.2 757.7,135.5 761.8,135.5 761.8,133.8 766.0,133.8 766.0,132.0 770.1,132.0 770.1,130.1 774.2,130.1 774.2,128.3 778.4,128.3 778.4,126.4 782.5,126.4 782.5,123.8 786.6,123.8 786.6,120.7 790.8,120.7 790.8,117.6 794.9,117.6 794.9,114.3 799.0,114.3 799.0,111.0 803.2,111.0 803.2,107.7 807.3,107.7 807.3,104.3 811.4,104.3 811.4,100.9 815.6,100.9 815.6,97.5 819.7,97.5 819.7,94.0 823.8,94.0 823.8,91.3 828.0,91.3 828.0,89.0 832.1,89.0 832.1,86.7 836.2,86.7 836.2,84.4 840.4,84.4 840.4,82.2 844.5,82.2 844.5,79.9 848.6,79.9 848.6,83.2 852.8,83.2 852.8,81.5 856.9,81.5 856.9,79.4 861.1,79.4 861.1,77.3 865.2,77.3 865.2,75.2 869.3,75.2 869.3,73.2 873.5,73.2 873.5,75.8 877.6,75.8 877.6,75.1 881.7,75.1 881.7,74.2 885.9,74.2 885.9,73.2 890.0,73.2 890.0,88.9 894.1,88.9 894.1,94.9 898.3,94.9 898.3,109.3 902.4,109.3 902.4,108.0 906.5,108.0 906.5,106.8 910.7,106.8 910.7,105.6 914.8,105.6 914.8,104.3 918.9,104.3 918.9,103.1 923.1,103.1 923.1,101.9 927.2,101.9 927.2,103.2 931.3,103.2 931.3,112.5 935.5,112.5 935.5,112.4 939.6,112.4 939.6,112.2 943.7,112.2 943.7,112.1 947.9,112.1 947.9,112.6 952.0,112.6 952.0,114.8 956.2,114.8 956.2,123.2 960.3,123.2 960.3,120.9 964.4,120.9 964.4,118.5 968.6,118.5 968.6,116.8 972.7,116.8 972.7,116.6 976.8,116.6 976.8,116.4 981.0,116.4 981.0,116.2 985.1,116.2 985.1,116.1 989.2,116.1 989.2,116.9 993.4,116.9 993.4,117.8 997.5,117.8 997.5,115.9 1001.6,115.9 1001.6,114.0 1005.8,114.0 1005.8,112.0 1009.9,112.0 1009.9,110.1 1014.0,110.1 1014.0,108.3 1018.2,108.3 1018.2,106.6 1022.3,106.6 1022.3,104.9 1026.4,104.9 1026.4,103.2 1030.6,103.2 1030.6,101.5 1034.7,101.5 1034.7,99.8 1038.8,99.8 1038.8,103.8 1043.0,103.8 1043.0,103.8 1047.1,103.8 1047.1,120.6 1051.2,120.6 1051.2,136.6 1055.4,136.6 1055.4,136.8 1059.5,136.8 1059.5,137.1 1063.7,137.1 1063.7,147.0 1067.8,147.0 1067.8,147.3 1071.9,147.3 1071.9,147.5 1076.1,147.5 1076.1,154.9 1080.2,154.9 1080.2,154.9 1084.3,154.9 1084.3,179.5 1088.5,179.5 1088.5,180.9 1092.6,180.9 1092.6,197.0 1096.7,197.0 1096.7,204.3 1100.9,204.3 1100.9,203.4 1105.0,203.4 1105.0,652.5" fill="url(#stripes)"/>
</svg>
<div class="abs" id="t1">Native ETH in L2's</div>
<svg width="1315" height="70" viewBox="0 0 1315 70" style="position:absolute;left:0;top:0"><g fill="#fff" font-family="Liberation Sans" font-size="47.5">
<text x="379" y="50.4" textLength="93" lengthAdjust="spacingAndGlyphs">ETH</text>
<text x="481" y="50.4" textLength="37.5" lengthAdjust="spacingAndGlyphs">is</text>
<text x="530" y="50.4" textLength="164.5" lengthAdjust="spacingAndGlyphs">leaving</text>
<text x="702" y="50.4" textLength="72.5" lengthAdjust="spacingAndGlyphs">the</text>
<text x="786" y="50.4" textLength="78" lengthAdjust="spacingAndGlyphs">L2s</text>
</g></svg>
<div class="yl" style="top:173px">3m</div>
<div class="yl" style="top:327px">2m</div>
<div class="yl" style="top:483px">1m</div>
<div class="yl" style="top:640px">0</div>
<div class="xl" style="left:52px">Jun 2024</div>
<div class="xl" style="left:253px">Aug 2024</div>
<div class="xl" style="left:455px">Nov 2024</div>
<div class="xl" style="left:658px">Jan 2025</div>
<div class="xl" style="left:861px">Apr 2025</div>
<svg width="1315" height="685" viewBox="0 0 1315 685" style="position:absolute;left:0;top:0"><g font-family="Liberation Sans" font-size="21.5" fill="#aab2b0" stroke="#aab2b0" stroke-width="0.3"><text x="1289.5" y="63.3" text-anchor="end" textLength="26.5" lengthAdjust="spacingAndGlyphs">All</text><text x="1289.5" y="95.9" text-anchor="end" textLength="89.0" lengthAdjust="spacingAndGlyphs">Arbitrum</text><text x="1289.5" y="128.5" text-anchor="end" textLength="49.7" lengthAdjust="spacingAndGlyphs">Base</text><text x="1289.5" y="161.1" text-anchor="end" textLength="95.7" lengthAdjust="spacingAndGlyphs">Optimism</text><text x="1289.5" y="193.7" text-anchor="end" textLength="53.9" lengthAdjust="spacingAndGlyphs">Linea</text><text x="1289.5" y="226.3" text-anchor="end" textLength="106.4" lengthAdjust="spacingAndGlyphs">Zksync era</text><text x="1289.5" y="258.9" text-anchor="end" textLength="85.1" lengthAdjust="spacingAndGlyphs">Starknet</text><text x="1289.5" y="291.5" text-anchor="end" textLength="57.3" lengthAdjust="spacingAndGlyphs">Scroll</text><text x="1289.5" y="324.1" text-anchor="end" textLength="111.0" lengthAdjust="spacingAndGlyphs">Zksync Lite</text><text x="1289.5" y="356.7" text-anchor="end" textLength="145.6" lengthAdjust="spacingAndGlyphs">Polygon zkevm</text><text x="1289.5" y="389.3" text-anchor="end" textLength="46.5" lengthAdjust="spacingAndGlyphs">Zora</text><text x="1289.5" y="421.9" text-anchor="end" textLength="55.9" lengthAdjust="spacingAndGlyphs">Mode</text><text x="1289.5" y="454.5" text-anchor="end" textLength="86.8" lengthAdjust="spacingAndGlyphs">Loopring</text><text x="1289.5" y="487.1" text-anchor="end" textLength="52.3" lengthAdjust="spacingAndGlyphs">Taiko</text><text x="1289.5" y="519.7" text-anchor="end" textLength="51.3" lengthAdjust="spacingAndGlyphs">Blast</text><text x="1289.5" y="552.3" text-anchor="end" textLength="40.1" lengthAdjust="spacingAndGlyphs">Bob</text><text x="1289.5" y="584.9" text-anchor="end" textLength="51.6" lengthAdjust="spacingAndGlyphs">Boba</text><text x="1289.5" y="617.5" text-anchor="end" textLength="43.4" lengthAdjust="spacingAndGlyphs">Fuel</text><text x="1289.5" y="650.1" text-anchor="end" textLength="66.1" lengthAdjust="spacingAndGlyphs">Kroma</text></g><rect x="1297" y="48.2" width="15" height="15" rx="3" fill="#b4b4b4"/><rect x="1297" y="80.8" width="15" height="15" rx="3" fill="#2a7ab0"/><rect x="1297" y="113.4" width="15" height="15" rx="3" fill="#d69ad8"/><rect x="1297" y="146.0" width="15" height="15" rx="3" fill="#f0900a"/><rect x="1297" y="178.6" width="15" height="15" rx="3" fill="#5a55a0"/><rect x="1297" y="211.2" width="15" height="15" rx="3" fill="#f08070"/><rect x="1297" y="243.8" width="15" height="15" rx="3" fill="#d020a0"/><rect x="1297" y="276.4" width="15" height="15" rx="3" fill="#1a9aaa"/><rect x="1297" y="309.0" width="15" height="15" rx="3" fill="#8cc860"/><rect x="1297" y="341.6" width="15" height="15" rx="3" fill="#ec3e74"/><rect x="1297" y="374.2" width="15" height="15" rx="3" fill="#4a78c8"/><rect x="1297" y="406.8" width="15" height="15" rx="3" fill="#20b080"/><rect x="1297" y="439.4" width="15" height="15" rx="3" fill="#8a48a8"/><rect x="1297" y="472.0" width="15" height="15" rx="3" fill="#b8b8b8"/><rect x="1297" y="504.6" width="15" height="15" rx="3" fill="#e0b880"/><rect x="1297" y="537.2" width="15" height="15" rx="3" fill="#b89ae8"/><rect x="1297" y="569.8" width="15" height="15" rx="3" fill="#90e0a8"/><rect x="1297" y="602.4" width="15" height="15" rx="3" fill="#d8e080"/><rect x="1297" y="635.0" width="15" height="15" rx="3" fill="#f080a8"/></svg>
<svg width="1315" height="685" viewBox="0 0 1315 685" style="position:absolute;left:0;top:0">
<g fill="#d895de" font-family="Liberation Sans" font-weight="bold">
<text x="1140.4" y="26.7" font-size="17" textLength="34.5" lengthAdjust="spacingAndGlyphs">THE</text>
<rect x="1137" y="30.2" width="42" height="2" />
<text x="1181" y="29.6" font-size="26.5">D</text>
<text x="1201.2" y="29.8" font-size="28.5">e</text>
<text x="1219.5" y="29.6" font-size="26.5">F</text>
<rect x="1237.4" y="18.2" width="4" height="11.4"/>
<circle cx="1239.4" cy="13.2" r="2.8"/>
<text x="1135" y="56" font-size="26">R</text>
<text x="1154.3" y="56" font-size="26">E</text>
<text x="1172.6" y="56" font-size="26">P</text>
<text x="1213" y="56" font-size="26">R</text>
<rect x="1229.8" y="31.1" width="19.2" height="4.2"/>
<rect x="1237.2" y="31.1" width="4.6" height="24.9"/>
</g>
<g fill="none" stroke="#d895de">
<circle cx="1201.9" cy="46.5" r="8.95" stroke-width="1.9"/>
<circle cx="1201.9" cy="46.5" r="5.25" stroke-width="1.8"/>
</g>
<circle cx="1201.9" cy="46.5" r="2.8" fill="#d895de"/>
</svg>
</body></html>
